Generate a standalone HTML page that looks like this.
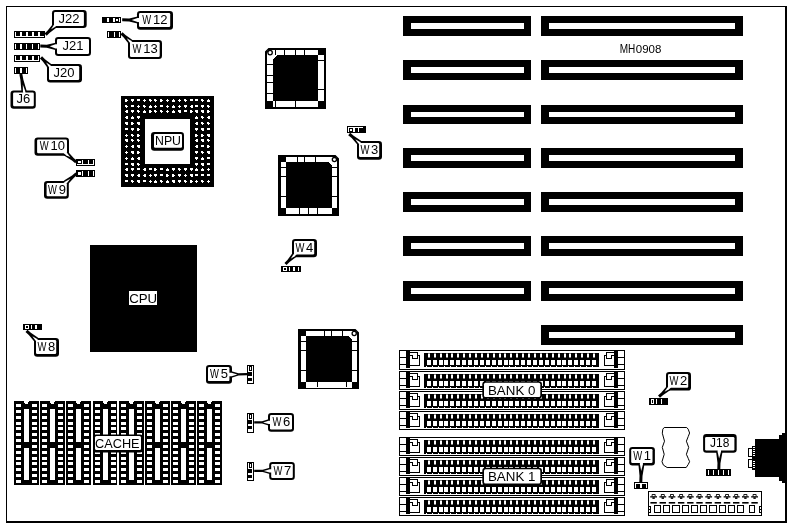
<!DOCTYPE html>
<html><head><meta charset="utf-8"><title>MH0908</title>
<style>
html,body{margin:0;padding:0;background:#fff;}
body{width:791px;height:527px;overflow:hidden;font-family:"Liberation Sans",sans-serif;}
svg{display:block;}
text{font-family:"Liberation Sans",sans-serif;fill:#000;}
svg{filter:grayscale(1);}
</style></head><body>
<svg width="791" height="527" viewBox="0 0 791 527" shape-rendering="crispEdges">
<rect x="0" y="0" width="791" height="527" fill="#fff"/>
<rect x="6" y="6" width="781" height="1" fill="#000" />
<rect x="6" y="6" width="1" height="517" fill="#000" />
<rect x="785" y="6" width="2" height="517" fill="#000" />
<rect x="6" y="521" width="781" height="2" fill="#000" />
<rect x="403" y="16" width="128" height="20" fill="#000" />
<rect x="411" y="23" width="113" height="6" fill="#fff" />
<rect x="541" y="16" width="202" height="20" fill="#000" />
<rect x="549" y="23" width="186" height="6" fill="#fff" />
<rect x="403" y="60" width="128" height="20" fill="#000" />
<rect x="411" y="67" width="113" height="6" fill="#fff" />
<rect x="541" y="60" width="202" height="20" fill="#000" />
<rect x="549" y="67" width="186" height="6" fill="#fff" />
<rect x="403" y="105" width="128" height="19" fill="#000" />
<rect x="411" y="112" width="113" height="5" fill="#fff" />
<rect x="541" y="105" width="202" height="19" fill="#000" />
<rect x="549" y="112" width="186" height="5" fill="#fff" />
<rect x="403" y="148" width="128" height="20" fill="#000" />
<rect x="411" y="155" width="113" height="6" fill="#fff" />
<rect x="541" y="148" width="202" height="20" fill="#000" />
<rect x="549" y="155" width="186" height="6" fill="#fff" />
<rect x="403" y="192" width="128" height="20" fill="#000" />
<rect x="411" y="199" width="113" height="6" fill="#fff" />
<rect x="541" y="192" width="202" height="20" fill="#000" />
<rect x="549" y="199" width="186" height="6" fill="#fff" />
<rect x="403" y="236" width="128" height="20" fill="#000" />
<rect x="411" y="243" width="113" height="6" fill="#fff" />
<rect x="541" y="236" width="202" height="20" fill="#000" />
<rect x="549" y="243" width="186" height="6" fill="#fff" />
<rect x="403" y="281" width="128" height="20" fill="#000" />
<rect x="411" y="288" width="113" height="6" fill="#fff" />
<rect x="541" y="281" width="202" height="20" fill="#000" />
<rect x="549" y="288" width="186" height="6" fill="#fff" />
<rect x="541" y="325" width="202" height="20" fill="#000" />
<rect x="549" y="332" width="186" height="6" fill="#fff" />
<rect x="90" y="245" width="107" height="107" fill="#000" />
<rect x="129" y="291" width="28" height="14" fill="#fff" />
<rect x="121" y="96" width="93" height="91" fill="#000" />
<rect x="145" y="119" width="45" height="45" fill="#fff" />
<path d="M125 99h2v1h1v1h-1v1h-2zM131 99h3v2h-1v1h-1v-1h-1zM137 99h3v2h-3zM144 99h1v1h1v1h-1v1h-1v-1h-1v-1h1zM149 99h2v1h1v1h-1v1h-1v-1h-1zM154 99h2v1h1v1h-1v1h-1v-1h-1zM160 99h2v1h1v1h-1v1h-2zM167 99h1v1h1v1h-1v1h-1v-1h-1v-1h1zM173 99h1v1h1v2h-3v-2h1zM179 99h1v1h1v1h-1v1h-1v-1h-1v-1h1zM184 99h2v1h1v1h-1v1h-1v-1h-1zM190 99h3v2h-3zM195 99h3v2h-3zM201 99h2v1h1v1h-1v1h-1v-1h-1zM208 99h1v1h1v2h-3v-2h1zM125 105h2v1h1v1h-1v1h-1v-1h-1zM131 105h3v2h-3zM138 105h1v1h1v1h-1v1h-1v-1h-1v-1h1zM143 105h2v1h1v1h-1v1h-1v-1h-1zM150 105h1v1h1v2h-3v-2h1zM155 105h1v1h1v1h-1v1h-1v-1h-1v-1h1zM160 105h3v2h-3zM167 105h1v1h1v1h-1v1h-1v-1h-1v-1h1zM173 105h1v1h1v2h-3v-2h1zM179 105h1v1h1v1h-1v1h-1v-1h-1v-1h1zM184 105h3v2h-1v1h-1v-1h-1zM190 106h1v-1h2v3h-2v-1h-1zM195 105h3v2h-3zM201 105h3v2h-1v1h-1v-1h-1zM207 105h2v1h1v1h-1v1h-1v-1h-1zM125 111h1v-1h2v3h-2v-1h-1zM131 110h3v2h-1v1h-1v-1h-1zM137 110h2v1h1v1h-1v1h-1v-1h-1zM144 110h1v1h1v2h-3v-2h1zM149 110h2v1h1v1h-1v1h-2zM154 110h2v1h1v1h-1v1h-1v-1h-1zM160 110h2v1h1v1h-1v1h-1v-1h-1zM167 110h1v1h1v1h-1v1h-1v-1h-1v-1h1zM173 110h1v1h1v2h-3v-2h1zM178 110h3v3h-2v-1h-1zM184 110h3v2h-3zM190 110h2v1h1v1h-1v1h-2zM195 110h3v3h-2v-1h-1zM201 110h3v3h-2v-1h-1zM207 110h2v1h1v1h-1v1h-2zM125 117h1v-1h2v3h-2v-1h-1zM132 116h1v1h1v2h-3v-2h1zM137 116h3v2h-1v1h-1v-1h-1zM196 116h1v1h1v2h-3v-2h1zM201 116h2v1h1v1h-1v1h-1v-1h-1zM207 117h1v-1h2v3h-2v-1h-1zM125 122h3v3h-2v-1h-1zM131 122h2v1h1v1h-1v1h-2zM137 122h3v3h-2v-1h-1zM195 123h1v-1h2v3h-2v-1h-1zM201 122h2v1h1v1h-1v1h-1v-1h-1zM207 122h2v1h1v1h-1v1h-1v-1h-1zM125 128h3v2h-3zM131 128h3v2h-1v1h-1v-1h-1zM137 128h2v1h1v1h-1v1h-2zM195 128h3v2h-1v1h-1v-1h-1zM201 128h3v3h-2v-1h-1zM207 128h3v2h-3zM126 134h1v1h1v1h-1v1h-1v-1h-1v-1h1zM131 134h2v1h1v1h-1v1h-1v-1h-1zM137 134h2v1h1v1h-1v1h-2zM195 134h2v1h1v1h-1v1h-2zM201 134h2v1h1v1h-1v1h-2zM207 134h3v3h-2v-1h-1zM125 139h3v3h-2v-1h-1zM131 139h2v1h1v1h-1v1h-1v-1h-1zM137 139h2v1h1v1h-1v1h-1v-1h-1zM195 140h1v-1h2v3h-2v-1h-1zM201 139h3v3h-2v-1h-1zM207 139h2v1h1v1h-1v1h-1v-1h-1zM126 145h1v1h1v1h-1v1h-1v-1h-1v-1h1zM131 146h1v-1h2v3h-2v-1h-1zM137 145h3v3h-2v-1h-1zM195 146h1v-1h2v3h-2v-1h-1zM201 145h3v2h-3zM207 145h2v1h1v1h-1v1h-2zM126 151h1v1h1v1h-1v1h-1v-1h-1v-1h1zM131 151h3v3h-2v-1h-1zM137 151h2v1h1v1h-1v1h-2zM195 151h3v2h-1v1h-1v-1h-1zM201 151h2v1h1v1h-1v1h-1v-1h-1zM207 151h3v3h-2v-1h-1zM126 157h1v1h1v1h-1v1h-1v-1h-1v-1h1zM132 157h1v1h1v2h-3v-2h1zM137 158h1v-1h2v3h-2v-1h-1zM195 157h3v2h-1v1h-1v-1h-1zM202 157h1v1h1v2h-3v-2h1zM207 157h3v2h-3zM125 163h3v2h-3zM131 163h3v3h-2v-1h-1zM137 163h2v1h1v1h-1v1h-1v-1h-1zM195 163h3v2h-1v1h-1v-1h-1zM201 163h3v3h-2v-1h-1zM207 163h3v2h-3zM125 169h1v-1h2v3h-2v-1h-1zM131 168h3v2h-1v1h-1v-1h-1zM137 168h3v2h-3zM143 169h1v-1h2v3h-2v-1h-1zM149 168h3v2h-3zM154 168h2v1h1v1h-1v1h-2zM160 168h3v2h-3zM167 168h1v1h1v2h-3v-2h1zM172 168h3v2h-1v1h-1v-1h-1zM178 168h2v1h1v1h-1v1h-1v-1h-1zM184 168h3v2h-1v1h-1v-1h-1zM190 168h3v2h-1v1h-1v-1h-1zM196 168h1v1h1v2h-3v-2h1zM202 168h1v1h1v2h-3v-2h1zM208 168h1v1h1v1h-1v1h-1v-1h-1v-1h1zM125 174h3v3h-2v-1h-1zM131 174h3v2h-1v1h-1v-1h-1zM137 175h1v-1h2v3h-2v-1h-1zM143 175h1v-1h2v3h-2v-1h-1zM150 174h1v1h1v1h-1v1h-1v-1h-1v-1h1zM154 174h3v2h-1v1h-1v-1h-1zM160 174h3v2h-3zM166 174h2v1h1v1h-1v1h-2zM172 174h2v1h1v1h-1v1h-2zM178 174h3v2h-1v1h-1v-1h-1zM185 174h1v1h1v1h-1v1h-1v-1h-1v-1h1zM190 174h3v3h-2v-1h-1zM195 174h3v2h-3zM201 174h3v2h-3zM207 174h3v2h-3zM125 180h3v2h-3zM131 180h2v1h1v1h-1v1h-1v-1h-1zM137 180h3v3h-2v-1h-1zM143 180h3v2h-3zM150 180h1v1h1v1h-1v1h-1v-1h-1v-1h1zM155 180h1v1h1v2h-3v-2h1zM160 180h2v1h1v1h-1v1h-1v-1h-1zM167 180h1v1h1v2h-3v-2h1zM172 180h3v3h-2v-1h-1zM178 180h3v2h-1v1h-1v-1h-1zM184 180h2v1h1v1h-1v1h-1v-1h-1zM190 180h2v1h1v1h-1v1h-2zM196 180h1v1h1v1h-1v1h-1v-1h-1v-1h1zM201 180h2v1h1v1h-1v1h-1v-1h-1zM208 180h1v1h1v1h-1v1h-1v-1h-1v-1h1z" fill="#fff"/>
<rect x="265" y="48" width="61" height="61" fill="#000" />
<rect x="267" y="50" width="57" height="57" fill="#fff" />
<rect x="273" y="55" width="45" height="46" fill="#000" />
<rect x="318" y="48" width="8" height="7" fill="#000" />
<rect x="265" y="101" width="8" height="8" fill="#000" />
<rect x="318" y="101" width="8" height="8" fill="#000" />
<rect x="278" y="155" width="61" height="61" fill="#000" />
<rect x="281" y="157" width="56" height="57" fill="#fff" />
<rect x="286" y="162" width="46" height="46" fill="#000" />
<rect x="278" y="155" width="8" height="7" fill="#000" />
<rect x="278" y="208" width="8" height="8" fill="#000" />
<rect x="332" y="208" width="7" height="8" fill="#000" />
<rect x="298" y="329" width="61" height="60" fill="#000" />
<rect x="301" y="331" width="56" height="57" fill="#fff" />
<rect x="306" y="336" width="46" height="46" fill="#000" />
<rect x="298" y="329" width="8" height="7" fill="#000" />
<rect x="298" y="382" width="8" height="7" fill="#000" />
<rect x="352" y="382" width="7" height="7" fill="#000" />
<rect x="275" y="50" width="1" height="5" fill="#000" />
<rect x="284" y="50" width="1" height="5" fill="#000" />
<rect x="295" y="50" width="1" height="5" fill="#000" />
<rect x="304" y="50" width="1" height="5" fill="#000" />
<rect x="267" y="64" width="6" height="1" fill="#000" />
<rect x="267" y="75" width="6" height="1" fill="#000" />
<rect x="267" y="82" width="6" height="1" fill="#000" />
<rect x="267" y="93" width="6" height="1" fill="#000" />
<rect x="318" y="60" width="6" height="1" fill="#000" />
<rect x="318" y="89" width="6" height="1" fill="#000" />
<rect x="275" y="101" width="1" height="6" fill="#000" />
<rect x="295" y="101" width="1" height="6" fill="#000" />
<polygon points="264,47 269.5,47 264,52.5" fill="#fff" shape-rendering="geometricPrecision"/>
<polygon points="265,52.5 269.5,48 272,48 265,55" fill="#000" shape-rendering="geometricPrecision"/>
<polygon points="273,55 277,55 273,59" fill="#fff" />
<circle cx="270.1" cy="52.6" r="2.2" fill="#fff" stroke="#000" stroke-width="1.3" shape-rendering="geometricPrecision"/>
<rect x="297" y="157" width="1" height="5" fill="#000" />
<rect x="304" y="157" width="1" height="5" fill="#000" />
<rect x="315" y="157" width="1" height="5" fill="#000" />
<rect x="281" y="167" width="5" height="1" fill="#000" />
<rect x="281" y="176" width="5" height="1" fill="#000" />
<rect x="281" y="196" width="5" height="1" fill="#000" />
<rect x="332" y="167" width="5" height="1" fill="#000" />
<rect x="332" y="176" width="5" height="1" fill="#000" />
<rect x="332" y="196" width="5" height="1" fill="#000" />
<rect x="299" y="208" width="1" height="6" fill="#000" />
<rect x="308" y="208" width="1" height="6" fill="#000" />
<rect x="317" y="208" width="1" height="6" fill="#000" />
<polygon points="340,154 334.5,154 340,159.5" fill="#fff" shape-rendering="geometricPrecision"/>
<polygon points="339,159.5 334.5,155 332,155 339,162" fill="#000" shape-rendering="geometricPrecision"/>
<polygon points="332,162 328,162 332,166" fill="#fff" />
<circle cx="334.4" cy="159.6" r="2.1" fill="#fff" stroke="#000" stroke-width="1.3" shape-rendering="geometricPrecision"/>
<rect x="324" y="331" width="1" height="5" fill="#000" />
<rect x="331" y="331" width="1" height="5" fill="#000" />
<rect x="342" y="331" width="1" height="5" fill="#000" />
<rect x="301" y="341" width="5" height="1" fill="#000" />
<rect x="301" y="350" width="5" height="1" fill="#000" />
<rect x="301" y="370" width="5" height="1" fill="#000" />
<rect x="352" y="341" width="5" height="1" fill="#000" />
<rect x="352" y="350" width="5" height="1" fill="#000" />
<rect x="352" y="370" width="5" height="1" fill="#000" />
<rect x="317" y="382" width="1" height="5" fill="#000" />
<rect x="346" y="382" width="1" height="5" fill="#000" />
<polygon points="360,328 354.5,328 360,333.5" fill="#fff" shape-rendering="geometricPrecision"/>
<polygon points="359,333.5 354.5,329 352,329 359,336" fill="#000" shape-rendering="geometricPrecision"/>
<polygon points="352,336 348,336 352,340" fill="#fff" />
<circle cx="354.2" cy="333.5" r="2.1" fill="#fff" stroke="#000" stroke-width="1.3" shape-rendering="geometricPrecision"/>
<rect x="14" y="401" width="25" height="84" fill="#000" />
<polygon points="24,401 29,401 28,404 25,404" fill="#fff" />
<rect x="24" y="409" width="5" height="33" fill="#fff" />
<rect x="24" y="448" width="5" height="32" fill="#fff" />
<rect x="16" y="404" width="5" height="3" fill="#fff" />
<rect x="32" y="404" width="5" height="3" fill="#fff" />
<rect x="16" y="410" width="5" height="3" fill="#fff" />
<rect x="32" y="410" width="5" height="3" fill="#fff" />
<rect x="16" y="416" width="5" height="3" fill="#fff" />
<rect x="32" y="416" width="5" height="3" fill="#fff" />
<rect x="16" y="422" width="5" height="3" fill="#fff" />
<rect x="32" y="422" width="5" height="3" fill="#fff" />
<rect x="16" y="427" width="5" height="3" fill="#fff" />
<rect x="32" y="427" width="5" height="3" fill="#fff" />
<rect x="16" y="433" width="5" height="3" fill="#fff" />
<rect x="32" y="433" width="5" height="3" fill="#fff" />
<rect x="16" y="439" width="5" height="3" fill="#fff" />
<rect x="32" y="439" width="5" height="3" fill="#fff" />
<rect x="16" y="445" width="5" height="3" fill="#fff" />
<rect x="32" y="445" width="5" height="3" fill="#fff" />
<rect x="16" y="451" width="5" height="3" fill="#fff" />
<rect x="32" y="451" width="5" height="3" fill="#fff" />
<rect x="16" y="457" width="5" height="3" fill="#fff" />
<rect x="32" y="457" width="5" height="3" fill="#fff" />
<rect x="16" y="462" width="5" height="3" fill="#fff" />
<rect x="32" y="462" width="5" height="3" fill="#fff" />
<rect x="16" y="468" width="5" height="3" fill="#fff" />
<rect x="32" y="468" width="5" height="3" fill="#fff" />
<rect x="16" y="474" width="5" height="3" fill="#fff" />
<rect x="32" y="474" width="5" height="3" fill="#fff" />
<rect x="16" y="480" width="5" height="3" fill="#fff" />
<rect x="32" y="480" width="5" height="3" fill="#fff" />
<rect x="40" y="401" width="25" height="84" fill="#000" />
<polygon points="50,401 55,401 54,404 51,404" fill="#fff" />
<rect x="50" y="409" width="5" height="33" fill="#fff" />
<rect x="50" y="448" width="5" height="32" fill="#fff" />
<rect x="42" y="404" width="5" height="3" fill="#fff" />
<rect x="58" y="404" width="5" height="3" fill="#fff" />
<rect x="42" y="410" width="5" height="3" fill="#fff" />
<rect x="58" y="410" width="5" height="3" fill="#fff" />
<rect x="42" y="416" width="5" height="3" fill="#fff" />
<rect x="58" y="416" width="5" height="3" fill="#fff" />
<rect x="42" y="422" width="5" height="3" fill="#fff" />
<rect x="58" y="422" width="5" height="3" fill="#fff" />
<rect x="42" y="427" width="5" height="3" fill="#fff" />
<rect x="58" y="427" width="5" height="3" fill="#fff" />
<rect x="42" y="433" width="5" height="3" fill="#fff" />
<rect x="58" y="433" width="5" height="3" fill="#fff" />
<rect x="42" y="439" width="5" height="3" fill="#fff" />
<rect x="58" y="439" width="5" height="3" fill="#fff" />
<rect x="42" y="445" width="5" height="3" fill="#fff" />
<rect x="58" y="445" width="5" height="3" fill="#fff" />
<rect x="42" y="451" width="5" height="3" fill="#fff" />
<rect x="58" y="451" width="5" height="3" fill="#fff" />
<rect x="42" y="457" width="5" height="3" fill="#fff" />
<rect x="58" y="457" width="5" height="3" fill="#fff" />
<rect x="42" y="462" width="5" height="3" fill="#fff" />
<rect x="58" y="462" width="5" height="3" fill="#fff" />
<rect x="42" y="468" width="5" height="3" fill="#fff" />
<rect x="58" y="468" width="5" height="3" fill="#fff" />
<rect x="42" y="474" width="5" height="3" fill="#fff" />
<rect x="58" y="474" width="5" height="3" fill="#fff" />
<rect x="42" y="480" width="5" height="3" fill="#fff" />
<rect x="58" y="480" width="5" height="3" fill="#fff" />
<rect x="66" y="401" width="25" height="84" fill="#000" />
<polygon points="76,401 81,401 80,404 77,404" fill="#fff" />
<rect x="76" y="409" width="5" height="33" fill="#fff" />
<rect x="76" y="448" width="5" height="32" fill="#fff" />
<rect x="68" y="404" width="5" height="3" fill="#fff" />
<rect x="84" y="404" width="5" height="3" fill="#fff" />
<rect x="68" y="410" width="5" height="3" fill="#fff" />
<rect x="84" y="410" width="5" height="3" fill="#fff" />
<rect x="68" y="416" width="5" height="3" fill="#fff" />
<rect x="84" y="416" width="5" height="3" fill="#fff" />
<rect x="68" y="422" width="5" height="3" fill="#fff" />
<rect x="84" y="422" width="5" height="3" fill="#fff" />
<rect x="68" y="427" width="5" height="3" fill="#fff" />
<rect x="84" y="427" width="5" height="3" fill="#fff" />
<rect x="68" y="433" width="5" height="3" fill="#fff" />
<rect x="84" y="433" width="5" height="3" fill="#fff" />
<rect x="68" y="439" width="5" height="3" fill="#fff" />
<rect x="84" y="439" width="5" height="3" fill="#fff" />
<rect x="68" y="445" width="5" height="3" fill="#fff" />
<rect x="84" y="445" width="5" height="3" fill="#fff" />
<rect x="68" y="451" width="5" height="3" fill="#fff" />
<rect x="84" y="451" width="5" height="3" fill="#fff" />
<rect x="68" y="457" width="5" height="3" fill="#fff" />
<rect x="84" y="457" width="5" height="3" fill="#fff" />
<rect x="68" y="462" width="5" height="3" fill="#fff" />
<rect x="84" y="462" width="5" height="3" fill="#fff" />
<rect x="68" y="468" width="5" height="3" fill="#fff" />
<rect x="84" y="468" width="5" height="3" fill="#fff" />
<rect x="68" y="474" width="5" height="3" fill="#fff" />
<rect x="84" y="474" width="5" height="3" fill="#fff" />
<rect x="68" y="480" width="5" height="3" fill="#fff" />
<rect x="84" y="480" width="5" height="3" fill="#fff" />
<rect x="93" y="401" width="24" height="84" fill="#000" />
<polygon points="103,401 108,401 107,404 104,404" fill="#fff" />
<rect x="103" y="409" width="5" height="33" fill="#fff" />
<rect x="103" y="448" width="5" height="32" fill="#fff" />
<rect x="95" y="404" width="5" height="3" fill="#fff" />
<rect x="111" y="404" width="5" height="3" fill="#fff" />
<rect x="95" y="410" width="5" height="3" fill="#fff" />
<rect x="111" y="410" width="5" height="3" fill="#fff" />
<rect x="95" y="416" width="5" height="3" fill="#fff" />
<rect x="111" y="416" width="5" height="3" fill="#fff" />
<rect x="95" y="422" width="5" height="3" fill="#fff" />
<rect x="111" y="422" width="5" height="3" fill="#fff" />
<rect x="95" y="427" width="5" height="3" fill="#fff" />
<rect x="111" y="427" width="5" height="3" fill="#fff" />
<rect x="95" y="433" width="5" height="3" fill="#fff" />
<rect x="111" y="433" width="5" height="3" fill="#fff" />
<rect x="95" y="439" width="5" height="3" fill="#fff" />
<rect x="111" y="439" width="5" height="3" fill="#fff" />
<rect x="95" y="445" width="5" height="3" fill="#fff" />
<rect x="111" y="445" width="5" height="3" fill="#fff" />
<rect x="95" y="451" width="5" height="3" fill="#fff" />
<rect x="111" y="451" width="5" height="3" fill="#fff" />
<rect x="95" y="457" width="5" height="3" fill="#fff" />
<rect x="111" y="457" width="5" height="3" fill="#fff" />
<rect x="95" y="462" width="5" height="3" fill="#fff" />
<rect x="111" y="462" width="5" height="3" fill="#fff" />
<rect x="95" y="468" width="5" height="3" fill="#fff" />
<rect x="111" y="468" width="5" height="3" fill="#fff" />
<rect x="95" y="474" width="5" height="3" fill="#fff" />
<rect x="111" y="474" width="5" height="3" fill="#fff" />
<rect x="95" y="480" width="5" height="3" fill="#fff" />
<rect x="111" y="480" width="5" height="3" fill="#fff" />
<rect x="119" y="401" width="25" height="84" fill="#000" />
<polygon points="129,401 134,401 133,404 130,404" fill="#fff" />
<rect x="129" y="409" width="5" height="33" fill="#fff" />
<rect x="129" y="448" width="5" height="32" fill="#fff" />
<rect x="121" y="404" width="5" height="3" fill="#fff" />
<rect x="137" y="404" width="5" height="3" fill="#fff" />
<rect x="121" y="410" width="5" height="3" fill="#fff" />
<rect x="137" y="410" width="5" height="3" fill="#fff" />
<rect x="121" y="416" width="5" height="3" fill="#fff" />
<rect x="137" y="416" width="5" height="3" fill="#fff" />
<rect x="121" y="422" width="5" height="3" fill="#fff" />
<rect x="137" y="422" width="5" height="3" fill="#fff" />
<rect x="121" y="427" width="5" height="3" fill="#fff" />
<rect x="137" y="427" width="5" height="3" fill="#fff" />
<rect x="121" y="433" width="5" height="3" fill="#fff" />
<rect x="137" y="433" width="5" height="3" fill="#fff" />
<rect x="121" y="439" width="5" height="3" fill="#fff" />
<rect x="137" y="439" width="5" height="3" fill="#fff" />
<rect x="121" y="445" width="5" height="3" fill="#fff" />
<rect x="137" y="445" width="5" height="3" fill="#fff" />
<rect x="121" y="451" width="5" height="3" fill="#fff" />
<rect x="137" y="451" width="5" height="3" fill="#fff" />
<rect x="121" y="457" width="5" height="3" fill="#fff" />
<rect x="137" y="457" width="5" height="3" fill="#fff" />
<rect x="121" y="462" width="5" height="3" fill="#fff" />
<rect x="137" y="462" width="5" height="3" fill="#fff" />
<rect x="121" y="468" width="5" height="3" fill="#fff" />
<rect x="137" y="468" width="5" height="3" fill="#fff" />
<rect x="121" y="474" width="5" height="3" fill="#fff" />
<rect x="137" y="474" width="5" height="3" fill="#fff" />
<rect x="121" y="480" width="5" height="3" fill="#fff" />
<rect x="137" y="480" width="5" height="3" fill="#fff" />
<rect x="145" y="401" width="25" height="84" fill="#000" />
<polygon points="155,401 160,401 159,404 156,404" fill="#fff" />
<rect x="155" y="409" width="5" height="33" fill="#fff" />
<rect x="155" y="448" width="5" height="32" fill="#fff" />
<rect x="147" y="404" width="5" height="3" fill="#fff" />
<rect x="163" y="404" width="5" height="3" fill="#fff" />
<rect x="147" y="410" width="5" height="3" fill="#fff" />
<rect x="163" y="410" width="5" height="3" fill="#fff" />
<rect x="147" y="416" width="5" height="3" fill="#fff" />
<rect x="163" y="416" width="5" height="3" fill="#fff" />
<rect x="147" y="422" width="5" height="3" fill="#fff" />
<rect x="163" y="422" width="5" height="3" fill="#fff" />
<rect x="147" y="427" width="5" height="3" fill="#fff" />
<rect x="163" y="427" width="5" height="3" fill="#fff" />
<rect x="147" y="433" width="5" height="3" fill="#fff" />
<rect x="163" y="433" width="5" height="3" fill="#fff" />
<rect x="147" y="439" width="5" height="3" fill="#fff" />
<rect x="163" y="439" width="5" height="3" fill="#fff" />
<rect x="147" y="445" width="5" height="3" fill="#fff" />
<rect x="163" y="445" width="5" height="3" fill="#fff" />
<rect x="147" y="451" width="5" height="3" fill="#fff" />
<rect x="163" y="451" width="5" height="3" fill="#fff" />
<rect x="147" y="457" width="5" height="3" fill="#fff" />
<rect x="163" y="457" width="5" height="3" fill="#fff" />
<rect x="147" y="462" width="5" height="3" fill="#fff" />
<rect x="163" y="462" width="5" height="3" fill="#fff" />
<rect x="147" y="468" width="5" height="3" fill="#fff" />
<rect x="163" y="468" width="5" height="3" fill="#fff" />
<rect x="147" y="474" width="5" height="3" fill="#fff" />
<rect x="163" y="474" width="5" height="3" fill="#fff" />
<rect x="147" y="480" width="5" height="3" fill="#fff" />
<rect x="163" y="480" width="5" height="3" fill="#fff" />
<rect x="171" y="401" width="25" height="84" fill="#000" />
<polygon points="181,401 186,401 185,404 182,404" fill="#fff" />
<rect x="181" y="409" width="5" height="33" fill="#fff" />
<rect x="181" y="448" width="5" height="32" fill="#fff" />
<rect x="173" y="404" width="5" height="3" fill="#fff" />
<rect x="189" y="404" width="5" height="3" fill="#fff" />
<rect x="173" y="410" width="5" height="3" fill="#fff" />
<rect x="189" y="410" width="5" height="3" fill="#fff" />
<rect x="173" y="416" width="5" height="3" fill="#fff" />
<rect x="189" y="416" width="5" height="3" fill="#fff" />
<rect x="173" y="422" width="5" height="3" fill="#fff" />
<rect x="189" y="422" width="5" height="3" fill="#fff" />
<rect x="173" y="427" width="5" height="3" fill="#fff" />
<rect x="189" y="427" width="5" height="3" fill="#fff" />
<rect x="173" y="433" width="5" height="3" fill="#fff" />
<rect x="189" y="433" width="5" height="3" fill="#fff" />
<rect x="173" y="439" width="5" height="3" fill="#fff" />
<rect x="189" y="439" width="5" height="3" fill="#fff" />
<rect x="173" y="445" width="5" height="3" fill="#fff" />
<rect x="189" y="445" width="5" height="3" fill="#fff" />
<rect x="173" y="451" width="5" height="3" fill="#fff" />
<rect x="189" y="451" width="5" height="3" fill="#fff" />
<rect x="173" y="457" width="5" height="3" fill="#fff" />
<rect x="189" y="457" width="5" height="3" fill="#fff" />
<rect x="173" y="462" width="5" height="3" fill="#fff" />
<rect x="189" y="462" width="5" height="3" fill="#fff" />
<rect x="173" y="468" width="5" height="3" fill="#fff" />
<rect x="189" y="468" width="5" height="3" fill="#fff" />
<rect x="173" y="474" width="5" height="3" fill="#fff" />
<rect x="189" y="474" width="5" height="3" fill="#fff" />
<rect x="173" y="480" width="5" height="3" fill="#fff" />
<rect x="189" y="480" width="5" height="3" fill="#fff" />
<rect x="197" y="401" width="25" height="84" fill="#000" />
<polygon points="207,401 212,401 211,404 208,404" fill="#fff" />
<rect x="207" y="409" width="5" height="33" fill="#fff" />
<rect x="207" y="448" width="5" height="32" fill="#fff" />
<rect x="199" y="404" width="5" height="3" fill="#fff" />
<rect x="215" y="404" width="5" height="3" fill="#fff" />
<rect x="199" y="410" width="5" height="3" fill="#fff" />
<rect x="215" y="410" width="5" height="3" fill="#fff" />
<rect x="199" y="416" width="5" height="3" fill="#fff" />
<rect x="215" y="416" width="5" height="3" fill="#fff" />
<rect x="199" y="422" width="5" height="3" fill="#fff" />
<rect x="215" y="422" width="5" height="3" fill="#fff" />
<rect x="199" y="427" width="5" height="3" fill="#fff" />
<rect x="215" y="427" width="5" height="3" fill="#fff" />
<rect x="199" y="433" width="5" height="3" fill="#fff" />
<rect x="215" y="433" width="5" height="3" fill="#fff" />
<rect x="199" y="439" width="5" height="3" fill="#fff" />
<rect x="215" y="439" width="5" height="3" fill="#fff" />
<rect x="199" y="445" width="5" height="3" fill="#fff" />
<rect x="215" y="445" width="5" height="3" fill="#fff" />
<rect x="199" y="451" width="5" height="3" fill="#fff" />
<rect x="215" y="451" width="5" height="3" fill="#fff" />
<rect x="199" y="457" width="5" height="3" fill="#fff" />
<rect x="215" y="457" width="5" height="3" fill="#fff" />
<rect x="199" y="462" width="5" height="3" fill="#fff" />
<rect x="215" y="462" width="5" height="3" fill="#fff" />
<rect x="199" y="468" width="5" height="3" fill="#fff" />
<rect x="215" y="468" width="5" height="3" fill="#fff" />
<rect x="199" y="474" width="5" height="3" fill="#fff" />
<rect x="215" y="474" width="5" height="3" fill="#fff" />
<rect x="199" y="480" width="5" height="3" fill="#fff" />
<rect x="215" y="480" width="5" height="3" fill="#fff" />
<rect x="399" y="350" width="226" height="20" fill="#000" />
<rect x="400" y="351" width="224" height="18" fill="#fff" />
<rect x="400" y="357" width="6" height="1" fill="#000" />
<rect x="400" y="364" width="6" height="1" fill="#000" />
<rect x="406" y="350" width="4" height="18" fill="#000" />
<rect x="410" y="352" width="8" height="1" fill="#000" />
<rect x="417" y="352" width="1" height="4" fill="#000" />
<rect x="417" y="355" width="3" height="1" fill="#000" />
<rect x="419" y="355" width="1" height="11" fill="#000" />
<rect x="410" y="365" width="10" height="1" fill="#000" />
<rect x="410" y="355" width="3" height="1" fill="#000" />
<rect x="412" y="355" width="1" height="4" fill="#000" />
<rect x="412" y="358" width="6" height="1" fill="#000" />
<rect x="417" y="356" width="1" height="3" fill="#000" />
<rect x="618" y="357" width="6" height="1" fill="#000" />
<rect x="618" y="364" width="6" height="1" fill="#000" />
<rect x="614" y="350" width="4" height="18" fill="#000" />
<rect x="606" y="352" width="8" height="1" fill="#000" />
<rect x="606" y="352" width="1" height="4" fill="#000" />
<rect x="604" y="355" width="3" height="1" fill="#000" />
<rect x="604" y="355" width="1" height="11" fill="#000" />
<rect x="604" y="365" width="10" height="1" fill="#000" />
<rect x="611" y="355" width="3" height="1" fill="#000" />
<rect x="611" y="355" width="1" height="4" fill="#000" />
<rect x="606" y="358" width="6" height="1" fill="#000" />
<rect x="606" y="356" width="1" height="3" fill="#000" />
<rect x="424" y="353" width="175" height="13" fill="#000" />
<path d="M428 353.6h2v3.9h-2zM427 360h4v5h-4zM431 366h1v1h-1zM434 353.6h2v3.9h-2zM433 360h4v5h-4zM437 366h1v1h-1zM440 353.6h2v3.9h-2zM439 360h4v5h-4zM443 366h1v1h-1zM446 353.6h2v3.9h-2zM444 360h4v5h-4zM448 366h1v1h-1zM451 353.6h2v3.9h-2zM450 360h4v5h-4zM454 366h1v1h-1zM457 353.6h2v3.9h-2zM456 360h4v5h-4zM460 366h1v1h-1zM463 353.6h2v3.9h-2zM462 360h4v5h-4zM466 366h1v1h-1zM469 353.6h2v3.9h-2zM468 360h4v5h-4zM472 366h1v1h-1zM475 353.6h2v3.9h-2zM474 360h4v5h-4zM478 366h1v1h-1zM481 353.6h2v3.9h-2zM480 360h4v5h-4zM484 366h1v1h-1zM487 353.6h2v3.9h-2zM486 360h4v5h-4zM490 366h1v1h-1zM493 353.6h2v3.9h-2zM492 360h4v5h-4zM496 366h1v1h-1zM499 353.6h2v3.9h-2zM498 360h4v5h-4zM502 366h1v1h-1zM504 353.6h2v3.9h-2zM504 360h4v5h-4zM508 366h1v1h-1zM510 353.6h2v3.9h-2zM509 360h4v5h-4zM513 366h1v1h-1zM516 353.6h2v3.9h-2zM515 360h4v5h-4zM519 366h1v1h-1zM522 353.6h2v3.9h-2zM521 360h4v5h-4zM525 366h1v1h-1zM528 353.6h2v3.9h-2zM527 360h4v5h-4zM531 366h1v1h-1zM534 353.6h2v3.9h-2zM533 360h4v5h-4zM537 366h1v1h-1zM540 353.6h2v3.9h-2zM539 360h4v5h-4zM543 366h1v1h-1zM546 353.6h2v3.9h-2zM545 360h4v5h-4zM549 366h1v1h-1zM552 353.6h2v3.9h-2zM551 360h4v5h-4zM555 366h1v1h-1zM558 353.6h2v3.9h-2zM557 360h4v5h-4zM561 366h1v1h-1zM564 353.6h2v3.9h-2zM562 360h4v5h-4zM566 366h1v1h-1zM569 353.6h2v3.9h-2zM568 360h4v5h-4zM572 366h1v1h-1zM575 353.6h2v3.9h-2zM574 360h4v5h-4zM578 366h1v1h-1zM581 353.6h2v3.9h-2zM580 360h4v5h-4zM584 366h1v1h-1zM587 353.6h2v3.9h-2zM586 360h4v5h-4zM590 366h1v1h-1zM593 353.6h2v3.9h-2zM592 360h4v5h-4zM596 366h1v1h-1z" fill="#fff" shape-rendering="geometricPrecision"/>
<rect x="424" y="366" width="175" height="1" fill="#000" />
<path d="M426 366h1v1h-1zM432 366h1v1h-1zM438 366h1v1h-1zM444 366h1v1h-1zM450 366h1v1h-1zM456 366h1v1h-1zM462 366h1v1h-1zM468 366h1v1h-1zM474 366h1v1h-1zM479 366h1v1h-1zM485 366h1v1h-1zM491 366h1v1h-1zM497 366h1v1h-1zM503 366h1v1h-1zM509 366h1v1h-1zM515 366h1v1h-1zM521 366h1v1h-1zM527 366h1v1h-1zM532 366h1v1h-1zM538 366h1v1h-1zM544 366h1v1h-1zM550 366h1v1h-1zM556 366h1v1h-1zM562 366h1v1h-1zM568 366h1v1h-1zM574 366h1v1h-1zM580 366h1v1h-1zM586 366h1v1h-1zM592 366h1v1h-1z" fill="#fff"/>
<rect x="399" y="371" width="226" height="19" fill="#000" />
<rect x="400" y="372" width="224" height="17" fill="#fff" />
<rect x="400" y="378" width="6" height="1" fill="#000" />
<rect x="400" y="385" width="6" height="1" fill="#000" />
<rect x="406" y="371" width="4" height="17" fill="#000" />
<rect x="410" y="373" width="8" height="1" fill="#000" />
<rect x="417" y="373" width="1" height="4" fill="#000" />
<rect x="417" y="376" width="3" height="1" fill="#000" />
<rect x="419" y="376" width="1" height="11" fill="#000" />
<rect x="410" y="386" width="10" height="1" fill="#000" />
<rect x="410" y="376" width="3" height="1" fill="#000" />
<rect x="412" y="376" width="1" height="4" fill="#000" />
<rect x="412" y="379" width="6" height="1" fill="#000" />
<rect x="417" y="377" width="1" height="3" fill="#000" />
<rect x="618" y="378" width="6" height="1" fill="#000" />
<rect x="618" y="385" width="6" height="1" fill="#000" />
<rect x="614" y="371" width="4" height="17" fill="#000" />
<rect x="606" y="373" width="8" height="1" fill="#000" />
<rect x="606" y="373" width="1" height="4" fill="#000" />
<rect x="604" y="376" width="3" height="1" fill="#000" />
<rect x="604" y="376" width="1" height="11" fill="#000" />
<rect x="604" y="386" width="10" height="1" fill="#000" />
<rect x="611" y="376" width="3" height="1" fill="#000" />
<rect x="611" y="376" width="1" height="4" fill="#000" />
<rect x="606" y="379" width="6" height="1" fill="#000" />
<rect x="606" y="377" width="1" height="3" fill="#000" />
<rect x="424" y="374" width="175" height="13" fill="#000" />
<path d="M428 374.6h2v3.9h-2zM427 381h4v5h-4zM431 387h1v1h-1zM434 374.6h2v3.9h-2zM433 381h4v5h-4zM437 387h1v1h-1zM440 374.6h2v3.9h-2zM439 381h4v5h-4zM443 387h1v1h-1zM446 374.6h2v3.9h-2zM444 381h4v5h-4zM448 387h1v1h-1zM451 374.6h2v3.9h-2zM450 381h4v5h-4zM454 387h1v1h-1zM457 374.6h2v3.9h-2zM456 381h4v5h-4zM460 387h1v1h-1zM463 374.6h2v3.9h-2zM462 381h4v5h-4zM466 387h1v1h-1zM469 374.6h2v3.9h-2zM468 381h4v5h-4zM472 387h1v1h-1zM475 374.6h2v3.9h-2zM474 381h4v5h-4zM478 387h1v1h-1zM481 374.6h2v3.9h-2zM480 381h4v5h-4zM484 387h1v1h-1zM487 374.6h2v3.9h-2zM486 381h4v5h-4zM490 387h1v1h-1zM493 374.6h2v3.9h-2zM492 381h4v5h-4zM496 387h1v1h-1zM499 374.6h2v3.9h-2zM498 381h4v5h-4zM502 387h1v1h-1zM504 374.6h2v3.9h-2zM504 381h4v5h-4zM508 387h1v1h-1zM510 374.6h2v3.9h-2zM509 381h4v5h-4zM513 387h1v1h-1zM516 374.6h2v3.9h-2zM515 381h4v5h-4zM519 387h1v1h-1zM522 374.6h2v3.9h-2zM521 381h4v5h-4zM525 387h1v1h-1zM528 374.6h2v3.9h-2zM527 381h4v5h-4zM531 387h1v1h-1zM534 374.6h2v3.9h-2zM533 381h4v5h-4zM537 387h1v1h-1zM540 374.6h2v3.9h-2zM539 381h4v5h-4zM543 387h1v1h-1zM546 374.6h2v3.9h-2zM545 381h4v5h-4zM549 387h1v1h-1zM552 374.6h2v3.9h-2zM551 381h4v5h-4zM555 387h1v1h-1zM558 374.6h2v3.9h-2zM557 381h4v5h-4zM561 387h1v1h-1zM564 374.6h2v3.9h-2zM562 381h4v5h-4zM566 387h1v1h-1zM569 374.6h2v3.9h-2zM568 381h4v5h-4zM572 387h1v1h-1zM575 374.6h2v3.9h-2zM574 381h4v5h-4zM578 387h1v1h-1zM581 374.6h2v3.9h-2zM580 381h4v5h-4zM584 387h1v1h-1zM587 374.6h2v3.9h-2zM586 381h4v5h-4zM590 387h1v1h-1zM593 374.6h2v3.9h-2zM592 381h4v5h-4zM596 387h1v1h-1z" fill="#fff" shape-rendering="geometricPrecision"/>
<rect x="424" y="387" width="175" height="1" fill="#000" />
<path d="M426 387h1v1h-1zM432 387h1v1h-1zM438 387h1v1h-1zM444 387h1v1h-1zM450 387h1v1h-1zM456 387h1v1h-1zM462 387h1v1h-1zM468 387h1v1h-1zM474 387h1v1h-1zM479 387h1v1h-1zM485 387h1v1h-1zM491 387h1v1h-1zM497 387h1v1h-1zM503 387h1v1h-1zM509 387h1v1h-1zM515 387h1v1h-1zM521 387h1v1h-1zM527 387h1v1h-1zM532 387h1v1h-1zM538 387h1v1h-1zM544 387h1v1h-1zM550 387h1v1h-1zM556 387h1v1h-1zM562 387h1v1h-1zM568 387h1v1h-1zM574 387h1v1h-1zM580 387h1v1h-1zM586 387h1v1h-1zM592 387h1v1h-1z" fill="#fff"/>
<rect x="399" y="391" width="226" height="19" fill="#000" />
<rect x="400" y="392" width="224" height="17" fill="#fff" />
<rect x="400" y="398" width="6" height="1" fill="#000" />
<rect x="400" y="405" width="6" height="1" fill="#000" />
<rect x="406" y="391" width="4" height="17" fill="#000" />
<rect x="410" y="393" width="8" height="1" fill="#000" />
<rect x="417" y="393" width="1" height="4" fill="#000" />
<rect x="417" y="396" width="3" height="1" fill="#000" />
<rect x="419" y="396" width="1" height="11" fill="#000" />
<rect x="410" y="406" width="10" height="1" fill="#000" />
<rect x="410" y="396" width="3" height="1" fill="#000" />
<rect x="412" y="396" width="1" height="4" fill="#000" />
<rect x="412" y="399" width="6" height="1" fill="#000" />
<rect x="417" y="397" width="1" height="3" fill="#000" />
<rect x="618" y="398" width="6" height="1" fill="#000" />
<rect x="618" y="405" width="6" height="1" fill="#000" />
<rect x="614" y="391" width="4" height="17" fill="#000" />
<rect x="606" y="393" width="8" height="1" fill="#000" />
<rect x="606" y="393" width="1" height="4" fill="#000" />
<rect x="604" y="396" width="3" height="1" fill="#000" />
<rect x="604" y="396" width="1" height="11" fill="#000" />
<rect x="604" y="406" width="10" height="1" fill="#000" />
<rect x="611" y="396" width="3" height="1" fill="#000" />
<rect x="611" y="396" width="1" height="4" fill="#000" />
<rect x="606" y="399" width="6" height="1" fill="#000" />
<rect x="606" y="397" width="1" height="3" fill="#000" />
<rect x="424" y="394" width="175" height="13" fill="#000" />
<path d="M428 394.6h2v3.9h-2zM427 401h4v5h-4zM431 407h1v1h-1zM434 394.6h2v3.9h-2zM433 401h4v5h-4zM437 407h1v1h-1zM440 394.6h2v3.9h-2zM439 401h4v5h-4zM443 407h1v1h-1zM446 394.6h2v3.9h-2zM444 401h4v5h-4zM448 407h1v1h-1zM451 394.6h2v3.9h-2zM450 401h4v5h-4zM454 407h1v1h-1zM457 394.6h2v3.9h-2zM456 401h4v5h-4zM460 407h1v1h-1zM463 394.6h2v3.9h-2zM462 401h4v5h-4zM466 407h1v1h-1zM469 394.6h2v3.9h-2zM468 401h4v5h-4zM472 407h1v1h-1zM475 394.6h2v3.9h-2zM474 401h4v5h-4zM478 407h1v1h-1zM481 394.6h2v3.9h-2zM480 401h4v5h-4zM484 407h1v1h-1zM487 394.6h2v3.9h-2zM486 401h4v5h-4zM490 407h1v1h-1zM493 394.6h2v3.9h-2zM492 401h4v5h-4zM496 407h1v1h-1zM499 394.6h2v3.9h-2zM498 401h4v5h-4zM502 407h1v1h-1zM504 394.6h2v3.9h-2zM504 401h4v5h-4zM508 407h1v1h-1zM510 394.6h2v3.9h-2zM509 401h4v5h-4zM513 407h1v1h-1zM516 394.6h2v3.9h-2zM515 401h4v5h-4zM519 407h1v1h-1zM522 394.6h2v3.9h-2zM521 401h4v5h-4zM525 407h1v1h-1zM528 394.6h2v3.9h-2zM527 401h4v5h-4zM531 407h1v1h-1zM534 394.6h2v3.9h-2zM533 401h4v5h-4zM537 407h1v1h-1zM540 394.6h2v3.9h-2zM539 401h4v5h-4zM543 407h1v1h-1zM546 394.6h2v3.9h-2zM545 401h4v5h-4zM549 407h1v1h-1zM552 394.6h2v3.9h-2zM551 401h4v5h-4zM555 407h1v1h-1zM558 394.6h2v3.9h-2zM557 401h4v5h-4zM561 407h1v1h-1zM564 394.6h2v3.9h-2zM562 401h4v5h-4zM566 407h1v1h-1zM569 394.6h2v3.9h-2zM568 401h4v5h-4zM572 407h1v1h-1zM575 394.6h2v3.9h-2zM574 401h4v5h-4zM578 407h1v1h-1zM581 394.6h2v3.9h-2zM580 401h4v5h-4zM584 407h1v1h-1zM587 394.6h2v3.9h-2zM586 401h4v5h-4zM590 407h1v1h-1zM593 394.6h2v3.9h-2zM592 401h4v5h-4zM596 407h1v1h-1z" fill="#fff" shape-rendering="geometricPrecision"/>
<rect x="424" y="407" width="175" height="1" fill="#000" />
<path d="M426 407h1v1h-1zM432 407h1v1h-1zM438 407h1v1h-1zM444 407h1v1h-1zM450 407h1v1h-1zM456 407h1v1h-1zM462 407h1v1h-1zM468 407h1v1h-1zM474 407h1v1h-1zM479 407h1v1h-1zM485 407h1v1h-1zM491 407h1v1h-1zM497 407h1v1h-1zM503 407h1v1h-1zM509 407h1v1h-1zM515 407h1v1h-1zM521 407h1v1h-1zM527 407h1v1h-1zM532 407h1v1h-1zM538 407h1v1h-1zM544 407h1v1h-1zM550 407h1v1h-1zM556 407h1v1h-1zM562 407h1v1h-1zM568 407h1v1h-1zM574 407h1v1h-1zM580 407h1v1h-1zM586 407h1v1h-1zM592 407h1v1h-1z" fill="#fff"/>
<rect x="399" y="411" width="226" height="19" fill="#000" />
<rect x="400" y="412" width="224" height="17" fill="#fff" />
<rect x="400" y="418" width="6" height="1" fill="#000" />
<rect x="400" y="425" width="6" height="1" fill="#000" />
<rect x="406" y="411" width="4" height="17" fill="#000" />
<rect x="410" y="413" width="8" height="1" fill="#000" />
<rect x="417" y="413" width="1" height="4" fill="#000" />
<rect x="417" y="416" width="3" height="1" fill="#000" />
<rect x="419" y="416" width="1" height="11" fill="#000" />
<rect x="410" y="426" width="10" height="1" fill="#000" />
<rect x="410" y="416" width="3" height="1" fill="#000" />
<rect x="412" y="416" width="1" height="4" fill="#000" />
<rect x="412" y="419" width="6" height="1" fill="#000" />
<rect x="417" y="417" width="1" height="3" fill="#000" />
<rect x="618" y="418" width="6" height="1" fill="#000" />
<rect x="618" y="425" width="6" height="1" fill="#000" />
<rect x="614" y="411" width="4" height="17" fill="#000" />
<rect x="606" y="413" width="8" height="1" fill="#000" />
<rect x="606" y="413" width="1" height="4" fill="#000" />
<rect x="604" y="416" width="3" height="1" fill="#000" />
<rect x="604" y="416" width="1" height="11" fill="#000" />
<rect x="604" y="426" width="10" height="1" fill="#000" />
<rect x="611" y="416" width="3" height="1" fill="#000" />
<rect x="611" y="416" width="1" height="4" fill="#000" />
<rect x="606" y="419" width="6" height="1" fill="#000" />
<rect x="606" y="417" width="1" height="3" fill="#000" />
<rect x="424" y="414" width="175" height="13" fill="#000" />
<path d="M428 414.6h2v3.9h-2zM427 421h4v5h-4zM431 427h1v1h-1zM434 414.6h2v3.9h-2zM433 421h4v5h-4zM437 427h1v1h-1zM440 414.6h2v3.9h-2zM439 421h4v5h-4zM443 427h1v1h-1zM446 414.6h2v3.9h-2zM444 421h4v5h-4zM448 427h1v1h-1zM451 414.6h2v3.9h-2zM450 421h4v5h-4zM454 427h1v1h-1zM457 414.6h2v3.9h-2zM456 421h4v5h-4zM460 427h1v1h-1zM463 414.6h2v3.9h-2zM462 421h4v5h-4zM466 427h1v1h-1zM469 414.6h2v3.9h-2zM468 421h4v5h-4zM472 427h1v1h-1zM475 414.6h2v3.9h-2zM474 421h4v5h-4zM478 427h1v1h-1zM481 414.6h2v3.9h-2zM480 421h4v5h-4zM484 427h1v1h-1zM487 414.6h2v3.9h-2zM486 421h4v5h-4zM490 427h1v1h-1zM493 414.6h2v3.9h-2zM492 421h4v5h-4zM496 427h1v1h-1zM499 414.6h2v3.9h-2zM498 421h4v5h-4zM502 427h1v1h-1zM504 414.6h2v3.9h-2zM504 421h4v5h-4zM508 427h1v1h-1zM510 414.6h2v3.9h-2zM509 421h4v5h-4zM513 427h1v1h-1zM516 414.6h2v3.9h-2zM515 421h4v5h-4zM519 427h1v1h-1zM522 414.6h2v3.9h-2zM521 421h4v5h-4zM525 427h1v1h-1zM528 414.6h2v3.9h-2zM527 421h4v5h-4zM531 427h1v1h-1zM534 414.6h2v3.9h-2zM533 421h4v5h-4zM537 427h1v1h-1zM540 414.6h2v3.9h-2zM539 421h4v5h-4zM543 427h1v1h-1zM546 414.6h2v3.9h-2zM545 421h4v5h-4zM549 427h1v1h-1zM552 414.6h2v3.9h-2zM551 421h4v5h-4zM555 427h1v1h-1zM558 414.6h2v3.9h-2zM557 421h4v5h-4zM561 427h1v1h-1zM564 414.6h2v3.9h-2zM562 421h4v5h-4zM566 427h1v1h-1zM569 414.6h2v3.9h-2zM568 421h4v5h-4zM572 427h1v1h-1zM575 414.6h2v3.9h-2zM574 421h4v5h-4zM578 427h1v1h-1zM581 414.6h2v3.9h-2zM580 421h4v5h-4zM584 427h1v1h-1zM587 414.6h2v3.9h-2zM586 421h4v5h-4zM590 427h1v1h-1zM593 414.6h2v3.9h-2zM592 421h4v5h-4zM596 427h1v1h-1z" fill="#fff" shape-rendering="geometricPrecision"/>
<rect x="424" y="427" width="175" height="1" fill="#000" />
<path d="M426 427h1v1h-1zM432 427h1v1h-1zM438 427h1v1h-1zM444 427h1v1h-1zM450 427h1v1h-1zM456 427h1v1h-1zM462 427h1v1h-1zM468 427h1v1h-1zM474 427h1v1h-1zM479 427h1v1h-1zM485 427h1v1h-1zM491 427h1v1h-1zM497 427h1v1h-1zM503 427h1v1h-1zM509 427h1v1h-1zM515 427h1v1h-1zM521 427h1v1h-1zM527 427h1v1h-1zM532 427h1v1h-1zM538 427h1v1h-1zM544 427h1v1h-1zM550 427h1v1h-1zM556 427h1v1h-1zM562 427h1v1h-1zM568 427h1v1h-1zM574 427h1v1h-1zM580 427h1v1h-1zM586 427h1v1h-1zM592 427h1v1h-1z" fill="#fff"/>
<rect x="399" y="437" width="226" height="19" fill="#000" />
<rect x="400" y="438" width="224" height="17" fill="#fff" />
<rect x="400" y="444" width="6" height="1" fill="#000" />
<rect x="400" y="451" width="6" height="1" fill="#000" />
<rect x="406" y="437" width="4" height="17" fill="#000" />
<rect x="410" y="439" width="8" height="1" fill="#000" />
<rect x="417" y="439" width="1" height="4" fill="#000" />
<rect x="417" y="442" width="3" height="1" fill="#000" />
<rect x="419" y="442" width="1" height="11" fill="#000" />
<rect x="410" y="452" width="10" height="1" fill="#000" />
<rect x="410" y="442" width="3" height="1" fill="#000" />
<rect x="412" y="442" width="1" height="4" fill="#000" />
<rect x="412" y="445" width="6" height="1" fill="#000" />
<rect x="417" y="443" width="1" height="3" fill="#000" />
<rect x="618" y="444" width="6" height="1" fill="#000" />
<rect x="618" y="451" width="6" height="1" fill="#000" />
<rect x="614" y="437" width="4" height="17" fill="#000" />
<rect x="606" y="439" width="8" height="1" fill="#000" />
<rect x="606" y="439" width="1" height="4" fill="#000" />
<rect x="604" y="442" width="3" height="1" fill="#000" />
<rect x="604" y="442" width="1" height="11" fill="#000" />
<rect x="604" y="452" width="10" height="1" fill="#000" />
<rect x="611" y="442" width="3" height="1" fill="#000" />
<rect x="611" y="442" width="1" height="4" fill="#000" />
<rect x="606" y="445" width="6" height="1" fill="#000" />
<rect x="606" y="443" width="1" height="3" fill="#000" />
<rect x="424" y="440" width="175" height="13" fill="#000" />
<path d="M428 440.6h2v3.9h-2zM427 447h4v5h-4zM431 453h1v1h-1zM434 440.6h2v3.9h-2zM433 447h4v5h-4zM437 453h1v1h-1zM440 440.6h2v3.9h-2zM439 447h4v5h-4zM443 453h1v1h-1zM446 440.6h2v3.9h-2zM444 447h4v5h-4zM448 453h1v1h-1zM451 440.6h2v3.9h-2zM450 447h4v5h-4zM454 453h1v1h-1zM457 440.6h2v3.9h-2zM456 447h4v5h-4zM460 453h1v1h-1zM463 440.6h2v3.9h-2zM462 447h4v5h-4zM466 453h1v1h-1zM469 440.6h2v3.9h-2zM468 447h4v5h-4zM472 453h1v1h-1zM475 440.6h2v3.9h-2zM474 447h4v5h-4zM478 453h1v1h-1zM481 440.6h2v3.9h-2zM480 447h4v5h-4zM484 453h1v1h-1zM487 440.6h2v3.9h-2zM486 447h4v5h-4zM490 453h1v1h-1zM493 440.6h2v3.9h-2zM492 447h4v5h-4zM496 453h1v1h-1zM499 440.6h2v3.9h-2zM498 447h4v5h-4zM502 453h1v1h-1zM504 440.6h2v3.9h-2zM504 447h4v5h-4zM508 453h1v1h-1zM510 440.6h2v3.9h-2zM509 447h4v5h-4zM513 453h1v1h-1zM516 440.6h2v3.9h-2zM515 447h4v5h-4zM519 453h1v1h-1zM522 440.6h2v3.9h-2zM521 447h4v5h-4zM525 453h1v1h-1zM528 440.6h2v3.9h-2zM527 447h4v5h-4zM531 453h1v1h-1zM534 440.6h2v3.9h-2zM533 447h4v5h-4zM537 453h1v1h-1zM540 440.6h2v3.9h-2zM539 447h4v5h-4zM543 453h1v1h-1zM546 440.6h2v3.9h-2zM545 447h4v5h-4zM549 453h1v1h-1zM552 440.6h2v3.9h-2zM551 447h4v5h-4zM555 453h1v1h-1zM558 440.6h2v3.9h-2zM557 447h4v5h-4zM561 453h1v1h-1zM564 440.6h2v3.9h-2zM562 447h4v5h-4zM566 453h1v1h-1zM569 440.6h2v3.9h-2zM568 447h4v5h-4zM572 453h1v1h-1zM575 440.6h2v3.9h-2zM574 447h4v5h-4zM578 453h1v1h-1zM581 440.6h2v3.9h-2zM580 447h4v5h-4zM584 453h1v1h-1zM587 440.6h2v3.9h-2zM586 447h4v5h-4zM590 453h1v1h-1zM593 440.6h2v3.9h-2zM592 447h4v5h-4zM596 453h1v1h-1z" fill="#fff" shape-rendering="geometricPrecision"/>
<rect x="424" y="453" width="175" height="1" fill="#000" />
<path d="M426 453h1v1h-1zM432 453h1v1h-1zM438 453h1v1h-1zM444 453h1v1h-1zM450 453h1v1h-1zM456 453h1v1h-1zM462 453h1v1h-1zM468 453h1v1h-1zM474 453h1v1h-1zM479 453h1v1h-1zM485 453h1v1h-1zM491 453h1v1h-1zM497 453h1v1h-1zM503 453h1v1h-1zM509 453h1v1h-1zM515 453h1v1h-1zM521 453h1v1h-1zM527 453h1v1h-1zM532 453h1v1h-1zM538 453h1v1h-1zM544 453h1v1h-1zM550 453h1v1h-1zM556 453h1v1h-1zM562 453h1v1h-1zM568 453h1v1h-1zM574 453h1v1h-1zM580 453h1v1h-1zM586 453h1v1h-1zM592 453h1v1h-1z" fill="#fff"/>
<rect x="399" y="457" width="226" height="19" fill="#000" />
<rect x="400" y="458" width="224" height="17" fill="#fff" />
<rect x="400" y="464" width="6" height="1" fill="#000" />
<rect x="400" y="471" width="6" height="1" fill="#000" />
<rect x="406" y="457" width="4" height="17" fill="#000" />
<rect x="410" y="459" width="8" height="1" fill="#000" />
<rect x="417" y="459" width="1" height="4" fill="#000" />
<rect x="417" y="462" width="3" height="1" fill="#000" />
<rect x="419" y="462" width="1" height="11" fill="#000" />
<rect x="410" y="472" width="10" height="1" fill="#000" />
<rect x="410" y="462" width="3" height="1" fill="#000" />
<rect x="412" y="462" width="1" height="4" fill="#000" />
<rect x="412" y="465" width="6" height="1" fill="#000" />
<rect x="417" y="463" width="1" height="3" fill="#000" />
<rect x="618" y="464" width="6" height="1" fill="#000" />
<rect x="618" y="471" width="6" height="1" fill="#000" />
<rect x="614" y="457" width="4" height="17" fill="#000" />
<rect x="606" y="459" width="8" height="1" fill="#000" />
<rect x="606" y="459" width="1" height="4" fill="#000" />
<rect x="604" y="462" width="3" height="1" fill="#000" />
<rect x="604" y="462" width="1" height="11" fill="#000" />
<rect x="604" y="472" width="10" height="1" fill="#000" />
<rect x="611" y="462" width="3" height="1" fill="#000" />
<rect x="611" y="462" width="1" height="4" fill="#000" />
<rect x="606" y="465" width="6" height="1" fill="#000" />
<rect x="606" y="463" width="1" height="3" fill="#000" />
<rect x="424" y="460" width="175" height="13" fill="#000" />
<path d="M428 460.6h2v3.9h-2zM427 467h4v5h-4zM431 473h1v1h-1zM434 460.6h2v3.9h-2zM433 467h4v5h-4zM437 473h1v1h-1zM440 460.6h2v3.9h-2zM439 467h4v5h-4zM443 473h1v1h-1zM446 460.6h2v3.9h-2zM444 467h4v5h-4zM448 473h1v1h-1zM451 460.6h2v3.9h-2zM450 467h4v5h-4zM454 473h1v1h-1zM457 460.6h2v3.9h-2zM456 467h4v5h-4zM460 473h1v1h-1zM463 460.6h2v3.9h-2zM462 467h4v5h-4zM466 473h1v1h-1zM469 460.6h2v3.9h-2zM468 467h4v5h-4zM472 473h1v1h-1zM475 460.6h2v3.9h-2zM474 467h4v5h-4zM478 473h1v1h-1zM481 460.6h2v3.9h-2zM480 467h4v5h-4zM484 473h1v1h-1zM487 460.6h2v3.9h-2zM486 467h4v5h-4zM490 473h1v1h-1zM493 460.6h2v3.9h-2zM492 467h4v5h-4zM496 473h1v1h-1zM499 460.6h2v3.9h-2zM498 467h4v5h-4zM502 473h1v1h-1zM504 460.6h2v3.9h-2zM504 467h4v5h-4zM508 473h1v1h-1zM510 460.6h2v3.9h-2zM509 467h4v5h-4zM513 473h1v1h-1zM516 460.6h2v3.9h-2zM515 467h4v5h-4zM519 473h1v1h-1zM522 460.6h2v3.9h-2zM521 467h4v5h-4zM525 473h1v1h-1zM528 460.6h2v3.9h-2zM527 467h4v5h-4zM531 473h1v1h-1zM534 460.6h2v3.9h-2zM533 467h4v5h-4zM537 473h1v1h-1zM540 460.6h2v3.9h-2zM539 467h4v5h-4zM543 473h1v1h-1zM546 460.6h2v3.9h-2zM545 467h4v5h-4zM549 473h1v1h-1zM552 460.6h2v3.9h-2zM551 467h4v5h-4zM555 473h1v1h-1zM558 460.6h2v3.9h-2zM557 467h4v5h-4zM561 473h1v1h-1zM564 460.6h2v3.9h-2zM562 467h4v5h-4zM566 473h1v1h-1zM569 460.6h2v3.9h-2zM568 467h4v5h-4zM572 473h1v1h-1zM575 460.6h2v3.9h-2zM574 467h4v5h-4zM578 473h1v1h-1zM581 460.6h2v3.9h-2zM580 467h4v5h-4zM584 473h1v1h-1zM587 460.6h2v3.9h-2zM586 467h4v5h-4zM590 473h1v1h-1zM593 460.6h2v3.9h-2zM592 467h4v5h-4zM596 473h1v1h-1z" fill="#fff" shape-rendering="geometricPrecision"/>
<rect x="424" y="473" width="175" height="1" fill="#000" />
<path d="M426 473h1v1h-1zM432 473h1v1h-1zM438 473h1v1h-1zM444 473h1v1h-1zM450 473h1v1h-1zM456 473h1v1h-1zM462 473h1v1h-1zM468 473h1v1h-1zM474 473h1v1h-1zM479 473h1v1h-1zM485 473h1v1h-1zM491 473h1v1h-1zM497 473h1v1h-1zM503 473h1v1h-1zM509 473h1v1h-1zM515 473h1v1h-1zM521 473h1v1h-1zM527 473h1v1h-1zM532 473h1v1h-1zM538 473h1v1h-1zM544 473h1v1h-1zM550 473h1v1h-1zM556 473h1v1h-1zM562 473h1v1h-1zM568 473h1v1h-1zM574 473h1v1h-1zM580 473h1v1h-1zM586 473h1v1h-1zM592 473h1v1h-1z" fill="#fff"/>
<rect x="399" y="477" width="226" height="19" fill="#000" />
<rect x="400" y="478" width="224" height="17" fill="#fff" />
<rect x="400" y="484" width="6" height="1" fill="#000" />
<rect x="400" y="491" width="6" height="1" fill="#000" />
<rect x="406" y="477" width="4" height="17" fill="#000" />
<rect x="410" y="479" width="8" height="1" fill="#000" />
<rect x="417" y="479" width="1" height="4" fill="#000" />
<rect x="417" y="482" width="3" height="1" fill="#000" />
<rect x="419" y="482" width="1" height="11" fill="#000" />
<rect x="410" y="492" width="10" height="1" fill="#000" />
<rect x="410" y="482" width="3" height="1" fill="#000" />
<rect x="412" y="482" width="1" height="4" fill="#000" />
<rect x="412" y="485" width="6" height="1" fill="#000" />
<rect x="417" y="483" width="1" height="3" fill="#000" />
<rect x="618" y="484" width="6" height="1" fill="#000" />
<rect x="618" y="491" width="6" height="1" fill="#000" />
<rect x="614" y="477" width="4" height="17" fill="#000" />
<rect x="606" y="479" width="8" height="1" fill="#000" />
<rect x="606" y="479" width="1" height="4" fill="#000" />
<rect x="604" y="482" width="3" height="1" fill="#000" />
<rect x="604" y="482" width="1" height="11" fill="#000" />
<rect x="604" y="492" width="10" height="1" fill="#000" />
<rect x="611" y="482" width="3" height="1" fill="#000" />
<rect x="611" y="482" width="1" height="4" fill="#000" />
<rect x="606" y="485" width="6" height="1" fill="#000" />
<rect x="606" y="483" width="1" height="3" fill="#000" />
<rect x="424" y="480" width="175" height="13" fill="#000" />
<path d="M428 480.6h2v3.9h-2zM427 487h4v5h-4zM431 493h1v1h-1zM434 480.6h2v3.9h-2zM433 487h4v5h-4zM437 493h1v1h-1zM440 480.6h2v3.9h-2zM439 487h4v5h-4zM443 493h1v1h-1zM446 480.6h2v3.9h-2zM444 487h4v5h-4zM448 493h1v1h-1zM451 480.6h2v3.9h-2zM450 487h4v5h-4zM454 493h1v1h-1zM457 480.6h2v3.9h-2zM456 487h4v5h-4zM460 493h1v1h-1zM463 480.6h2v3.9h-2zM462 487h4v5h-4zM466 493h1v1h-1zM469 480.6h2v3.9h-2zM468 487h4v5h-4zM472 493h1v1h-1zM475 480.6h2v3.9h-2zM474 487h4v5h-4zM478 493h1v1h-1zM481 480.6h2v3.9h-2zM480 487h4v5h-4zM484 493h1v1h-1zM487 480.6h2v3.9h-2zM486 487h4v5h-4zM490 493h1v1h-1zM493 480.6h2v3.9h-2zM492 487h4v5h-4zM496 493h1v1h-1zM499 480.6h2v3.9h-2zM498 487h4v5h-4zM502 493h1v1h-1zM504 480.6h2v3.9h-2zM504 487h4v5h-4zM508 493h1v1h-1zM510 480.6h2v3.9h-2zM509 487h4v5h-4zM513 493h1v1h-1zM516 480.6h2v3.9h-2zM515 487h4v5h-4zM519 493h1v1h-1zM522 480.6h2v3.9h-2zM521 487h4v5h-4zM525 493h1v1h-1zM528 480.6h2v3.9h-2zM527 487h4v5h-4zM531 493h1v1h-1zM534 480.6h2v3.9h-2zM533 487h4v5h-4zM537 493h1v1h-1zM540 480.6h2v3.9h-2zM539 487h4v5h-4zM543 493h1v1h-1zM546 480.6h2v3.9h-2zM545 487h4v5h-4zM549 493h1v1h-1zM552 480.6h2v3.9h-2zM551 487h4v5h-4zM555 493h1v1h-1zM558 480.6h2v3.9h-2zM557 487h4v5h-4zM561 493h1v1h-1zM564 480.6h2v3.9h-2zM562 487h4v5h-4zM566 493h1v1h-1zM569 480.6h2v3.9h-2zM568 487h4v5h-4zM572 493h1v1h-1zM575 480.6h2v3.9h-2zM574 487h4v5h-4zM578 493h1v1h-1zM581 480.6h2v3.9h-2zM580 487h4v5h-4zM584 493h1v1h-1zM587 480.6h2v3.9h-2zM586 487h4v5h-4zM590 493h1v1h-1zM593 480.6h2v3.9h-2zM592 487h4v5h-4zM596 493h1v1h-1z" fill="#fff" shape-rendering="geometricPrecision"/>
<rect x="424" y="493" width="175" height="1" fill="#000" />
<path d="M426 493h1v1h-1zM432 493h1v1h-1zM438 493h1v1h-1zM444 493h1v1h-1zM450 493h1v1h-1zM456 493h1v1h-1zM462 493h1v1h-1zM468 493h1v1h-1zM474 493h1v1h-1zM479 493h1v1h-1zM485 493h1v1h-1zM491 493h1v1h-1zM497 493h1v1h-1zM503 493h1v1h-1zM509 493h1v1h-1zM515 493h1v1h-1zM521 493h1v1h-1zM527 493h1v1h-1zM532 493h1v1h-1zM538 493h1v1h-1zM544 493h1v1h-1zM550 493h1v1h-1zM556 493h1v1h-1zM562 493h1v1h-1zM568 493h1v1h-1zM574 493h1v1h-1zM580 493h1v1h-1zM586 493h1v1h-1zM592 493h1v1h-1z" fill="#fff"/>
<rect x="399" y="497" width="226" height="19" fill="#000" />
<rect x="400" y="498" width="224" height="17" fill="#fff" />
<rect x="400" y="504" width="6" height="1" fill="#000" />
<rect x="400" y="511" width="6" height="1" fill="#000" />
<rect x="406" y="497" width="4" height="17" fill="#000" />
<rect x="410" y="499" width="8" height="1" fill="#000" />
<rect x="417" y="499" width="1" height="4" fill="#000" />
<rect x="417" y="502" width="3" height="1" fill="#000" />
<rect x="419" y="502" width="1" height="11" fill="#000" />
<rect x="410" y="512" width="10" height="1" fill="#000" />
<rect x="410" y="502" width="3" height="1" fill="#000" />
<rect x="412" y="502" width="1" height="4" fill="#000" />
<rect x="412" y="505" width="6" height="1" fill="#000" />
<rect x="417" y="503" width="1" height="3" fill="#000" />
<rect x="618" y="504" width="6" height="1" fill="#000" />
<rect x="618" y="511" width="6" height="1" fill="#000" />
<rect x="614" y="497" width="4" height="17" fill="#000" />
<rect x="606" y="499" width="8" height="1" fill="#000" />
<rect x="606" y="499" width="1" height="4" fill="#000" />
<rect x="604" y="502" width="3" height="1" fill="#000" />
<rect x="604" y="502" width="1" height="11" fill="#000" />
<rect x="604" y="512" width="10" height="1" fill="#000" />
<rect x="611" y="502" width="3" height="1" fill="#000" />
<rect x="611" y="502" width="1" height="4" fill="#000" />
<rect x="606" y="505" width="6" height="1" fill="#000" />
<rect x="606" y="503" width="1" height="3" fill="#000" />
<rect x="424" y="500" width="175" height="13" fill="#000" />
<path d="M428 500.6h2v3.9h-2zM427 507h4v5h-4zM431 513h1v1h-1zM434 500.6h2v3.9h-2zM433 507h4v5h-4zM437 513h1v1h-1zM440 500.6h2v3.9h-2zM439 507h4v5h-4zM443 513h1v1h-1zM446 500.6h2v3.9h-2zM444 507h4v5h-4zM448 513h1v1h-1zM451 500.6h2v3.9h-2zM450 507h4v5h-4zM454 513h1v1h-1zM457 500.6h2v3.9h-2zM456 507h4v5h-4zM460 513h1v1h-1zM463 500.6h2v3.9h-2zM462 507h4v5h-4zM466 513h1v1h-1zM469 500.6h2v3.9h-2zM468 507h4v5h-4zM472 513h1v1h-1zM475 500.6h2v3.9h-2zM474 507h4v5h-4zM478 513h1v1h-1zM481 500.6h2v3.9h-2zM480 507h4v5h-4zM484 513h1v1h-1zM487 500.6h2v3.9h-2zM486 507h4v5h-4zM490 513h1v1h-1zM493 500.6h2v3.9h-2zM492 507h4v5h-4zM496 513h1v1h-1zM499 500.6h2v3.9h-2zM498 507h4v5h-4zM502 513h1v1h-1zM504 500.6h2v3.9h-2zM504 507h4v5h-4zM508 513h1v1h-1zM510 500.6h2v3.9h-2zM509 507h4v5h-4zM513 513h1v1h-1zM516 500.6h2v3.9h-2zM515 507h4v5h-4zM519 513h1v1h-1zM522 500.6h2v3.9h-2zM521 507h4v5h-4zM525 513h1v1h-1zM528 500.6h2v3.9h-2zM527 507h4v5h-4zM531 513h1v1h-1zM534 500.6h2v3.9h-2zM533 507h4v5h-4zM537 513h1v1h-1zM540 500.6h2v3.9h-2zM539 507h4v5h-4zM543 513h1v1h-1zM546 500.6h2v3.9h-2zM545 507h4v5h-4zM549 513h1v1h-1zM552 500.6h2v3.9h-2zM551 507h4v5h-4zM555 513h1v1h-1zM558 500.6h2v3.9h-2zM557 507h4v5h-4zM561 513h1v1h-1zM564 500.6h2v3.9h-2zM562 507h4v5h-4zM566 513h1v1h-1zM569 500.6h2v3.9h-2zM568 507h4v5h-4zM572 513h1v1h-1zM575 500.6h2v3.9h-2zM574 507h4v5h-4zM578 513h1v1h-1zM581 500.6h2v3.9h-2zM580 507h4v5h-4zM584 513h1v1h-1zM587 500.6h2v3.9h-2zM586 507h4v5h-4zM590 513h1v1h-1zM593 500.6h2v3.9h-2zM592 507h4v5h-4zM596 513h1v1h-1z" fill="#fff" shape-rendering="geometricPrecision"/>
<rect x="424" y="513" width="175" height="1" fill="#000" />
<path d="M426 513h1v1h-1zM432 513h1v1h-1zM438 513h1v1h-1zM444 513h1v1h-1zM450 513h1v1h-1zM456 513h1v1h-1zM462 513h1v1h-1zM468 513h1v1h-1zM474 513h1v1h-1zM479 513h1v1h-1zM485 513h1v1h-1zM491 513h1v1h-1zM497 513h1v1h-1zM503 513h1v1h-1zM509 513h1v1h-1zM515 513h1v1h-1zM521 513h1v1h-1zM527 513h1v1h-1zM532 513h1v1h-1zM538 513h1v1h-1zM544 513h1v1h-1zM550 513h1v1h-1zM556 513h1v1h-1zM562 513h1v1h-1zM568 513h1v1h-1zM574 513h1v1h-1zM580 513h1v1h-1zM586 513h1v1h-1zM592 513h1v1h-1z" fill="#fff"/>
<rect x="14" y="31" width="31" height="7" fill="#000" />
<rect x="15" y="32" width="29" height="5" fill="#fff" />
<rect x="16" y="32" width="4" height="4" fill="#000" />
<rect x="22" y="32" width="4" height="4" fill="#000" />
<rect x="28" y="32" width="4" height="4" fill="#000" />
<rect x="34" y="32" width="4" height="4" fill="#000" />
<rect x="40" y="32" width="4" height="4" fill="#000" />
<rect x="14" y="43" width="26" height="7" fill="#000" />
<rect x="15" y="44" width="1" height="5" fill="#fff" />
<rect x="20" y="44" width="2" height="5" fill="#fff" />
<rect x="26" y="44" width="1" height="5" fill="#fff" />
<rect x="32" y="44" width="1" height="5" fill="#fff" />
<rect x="38" y="44" width="1" height="5" fill="#fff" />
<rect x="14" y="55" width="26" height="7" fill="#000" />
<rect x="15" y="56" width="24" height="5" fill="#fff" />
<rect x="16" y="56" width="4" height="4" fill="#000" />
<rect x="22" y="56" width="4" height="4" fill="#000" />
<rect x="28" y="56" width="4" height="4" fill="#000" />
<rect x="34" y="56" width="4" height="4" fill="#000" />
<rect x="14" y="67" width="14" height="7" fill="#000" />
<rect x="15" y="68" width="1" height="5" fill="#fff" />
<rect x="20" y="68" width="2" height="5" fill="#fff" />
<rect x="26" y="68" width="1" height="5" fill="#fff" />
<rect x="102" y="17" width="19" height="6" fill="#000" />
<rect x="107" y="18" width="2" height="4" fill="#fff" />
<rect x="113" y="18" width="2" height="4" fill="#fff" />
<rect x="119" y="18" width="1" height="4" fill="#fff" />
<rect x="116" y="19" width="2" height="2" fill="#fff" />
<rect x="107" y="31" width="14" height="7" fill="#000" />
<rect x="108" y="32" width="1" height="5" fill="#fff" />
<rect x="114" y="32" width="1" height="5" fill="#fff" />
<rect x="119" y="32" width="1" height="5" fill="#fff" />
<rect x="76" y="159" width="19" height="7" fill="#000" />
<rect x="78" y="161" width="3" height="2" fill="#fff" />
<rect x="82" y="160" width="1" height="4" fill="#fff" />
<rect x="88" y="160" width="1" height="4" fill="#fff" />
<rect x="93" y="160" width="1" height="4" fill="#fff" />
<rect x="77" y="164" width="17" height="1" fill="#fff" />
<rect x="76" y="170" width="19" height="7" fill="#000" />
<rect x="78" y="172" width="3" height="3" fill="#fff" />
<rect x="82" y="171" width="1" height="5" fill="#fff" />
<rect x="88" y="171" width="1" height="5" fill="#fff" />
<rect x="93" y="171" width="1" height="5" fill="#fff" />
<rect x="23" y="324" width="19" height="6" fill="#000" />
<rect x="25" y="325" width="4" height="4" fill="#fff" />
<rect x="31" y="325" width="1" height="4" fill="#fff" />
<rect x="35" y="325" width="2" height="4" fill="#fff" />
<rect x="26" y="326" width="2" height="2" fill="#000" />
<rect x="347" y="126" width="19" height="7" fill="#000" />
<rect x="348" y="127" width="15" height="1" fill="#fff" />
<rect x="348" y="128" width="6" height="4" fill="#fff" />
<rect x="349" y="128" width="4" height="4" fill="#000" />
<rect x="350" y="129" width="2" height="2" fill="#fff" />
<rect x="354" y="128" width="1" height="4" fill="#fff" />
<rect x="358" y="128" width="1" height="4" fill="#fff" />
<rect x="281" y="266" width="20" height="6" fill="#000" />
<rect x="283" y="267" width="4" height="4" fill="#fff" />
<rect x="289" y="267" width="1" height="4" fill="#fff" />
<rect x="293" y="267" width="2" height="4" fill="#fff" />
<rect x="298" y="267" width="1" height="4" fill="#fff" />
<rect x="284" y="268" width="2" height="2" fill="#000" />
<rect x="649" y="398" width="19" height="7" fill="#000" />
<rect x="651" y="399" width="3" height="5" fill="#fff" />
<rect x="656" y="399" width="1" height="5" fill="#fff" />
<rect x="661" y="399" width="1" height="5" fill="#fff" />
<rect x="652" y="400" width="1" height="3" fill="#000" />
<rect x="634" y="482" width="14" height="7" fill="#000" />
<rect x="635" y="483" width="12" height="5" fill="#fff" />
<rect x="636" y="484" width="4" height="5" fill="#000" />
<rect x="642" y="484" width="4" height="5" fill="#000" />
<rect x="706" y="469" width="25" height="7" fill="#000" />
<rect x="708" y="470" width="1" height="5" fill="#fff" />
<rect x="713" y="470" width="1" height="5" fill="#fff" />
<rect x="718" y="470" width="1" height="5" fill="#fff" />
<rect x="723" y="470" width="1" height="5" fill="#fff" />
<rect x="728" y="470" width="1" height="5" fill="#fff" />
<rect x="247" y="365" width="7" height="19" fill="#000" />
<rect x="248" y="366" width="5" height="17" fill="#fff" />
<rect x="249" y="366" width="3" height="5" fill="#000" />
<rect x="250" y="367" width="1" height="3" fill="#fff" />
<rect x="248" y="372" width="4" height="4" fill="#000" />
<rect x="248" y="378" width="4" height="3" fill="#000" />
<rect x="247" y="413" width="7" height="20" fill="#000" />
<rect x="248" y="414" width="5" height="18" fill="#fff" />
<rect x="249" y="414" width="3" height="5" fill="#000" />
<rect x="250" y="415" width="1" height="3" fill="#fff" />
<rect x="248" y="420" width="4" height="4" fill="#000" />
<rect x="248" y="426" width="4" height="3" fill="#000" />
<rect x="247" y="462" width="7" height="19" fill="#000" />
<rect x="248" y="463" width="5" height="17" fill="#fff" />
<rect x="249" y="463" width="3" height="5" fill="#000" />
<rect x="250" y="464" width="1" height="3" fill="#fff" />
<rect x="248" y="469" width="4" height="4" fill="#000" />
<rect x="248" y="475" width="4" height="3" fill="#000" />
<rect x="755" y="439" width="30" height="38" fill="#000" />
<rect x="779" y="435" width="6" height="46" fill="#000" />
<rect x="782" y="433" width="3" height="50" fill="#000" />
<rect x="748" y="448" width="5" height="9" fill="#000" />
<rect x="749" y="449" width="3" height="7" fill="#fff" />
<rect x="748" y="459" width="5" height="9" fill="#000" />
<rect x="749" y="460" width="3" height="7" fill="#fff" />
<rect x="752" y="446" width="3" height="24" fill="#000" />
<rect x="753" y="447" width="2" height="22" fill="#fff" />
<rect x="753" y="448" width="2" height="1" fill="#000" />
<rect x="753" y="450" width="2" height="1" fill="#000" />
<rect x="753" y="452" width="2" height="1" fill="#000" />
<rect x="753" y="454" width="2" height="1" fill="#000" />
<rect x="753" y="456" width="2" height="1" fill="#000" />
<rect x="753" y="458" width="2" height="1" fill="#000" />
<rect x="753" y="460" width="2" height="1" fill="#000" />
<rect x="753" y="462" width="2" height="1" fill="#000" />
<rect x="753" y="464" width="2" height="1" fill="#000" />
<rect x="753" y="466" width="2" height="1" fill="#000" />
<rect x="753" y="468" width="2" height="1" fill="#000" />
<rect x="753" y="456" width="2" height="4" fill="#000" />
<rect x="648" y="491" width="114" height="25" fill="#000" />
<rect x="649" y="492" width="112" height="23" fill="#fff" />
<rect x="650.40" y="502" width="6.4" height="1.6" fill="#000" shape-rendering="geometricPrecision"/>
<rect x="650.20" y="496.2" width="6.8" height="1.3" fill="#000" shape-rendering="geometricPrecision"/>
<rect x="651.60" y="494" width="4" height="2.4" fill="#000" rx="1" shape-rendering="geometricPrecision"/>
<rect x="652.50" y="494.9" width="2.2" height="1.2" fill="#fff" shape-rendering="geometricPrecision"/>
<rect x="652.40" y="497.3" width="2.4" height="1.6" fill="#000" shape-rendering="geometricPrecision"/>
<rect x="659.58" y="502" width="6.4" height="1.6" fill="#000" shape-rendering="geometricPrecision"/>
<rect x="659.38" y="496.2" width="6.8" height="1.3" fill="#000" shape-rendering="geometricPrecision"/>
<rect x="660.78" y="494" width="4" height="2.4" fill="#000" rx="1" shape-rendering="geometricPrecision"/>
<rect x="661.68" y="494.9" width="2.2" height="1.2" fill="#fff" shape-rendering="geometricPrecision"/>
<rect x="661.58" y="497.3" width="2.4" height="1.6" fill="#000" shape-rendering="geometricPrecision"/>
<rect x="668.76" y="502" width="6.4" height="1.6" fill="#000" shape-rendering="geometricPrecision"/>
<rect x="668.56" y="496.2" width="6.8" height="1.3" fill="#000" shape-rendering="geometricPrecision"/>
<rect x="669.96" y="494" width="4" height="2.4" fill="#000" rx="1" shape-rendering="geometricPrecision"/>
<rect x="670.86" y="494.9" width="2.2" height="1.2" fill="#fff" shape-rendering="geometricPrecision"/>
<rect x="670.76" y="497.3" width="2.4" height="1.6" fill="#000" shape-rendering="geometricPrecision"/>
<rect x="677.94" y="502" width="6.4" height="1.6" fill="#000" shape-rendering="geometricPrecision"/>
<rect x="677.74" y="496.2" width="6.8" height="1.3" fill="#000" shape-rendering="geometricPrecision"/>
<rect x="679.14" y="494" width="4" height="2.4" fill="#000" rx="1" shape-rendering="geometricPrecision"/>
<rect x="680.04" y="494.9" width="2.2" height="1.2" fill="#fff" shape-rendering="geometricPrecision"/>
<rect x="679.94" y="497.3" width="2.4" height="1.6" fill="#000" shape-rendering="geometricPrecision"/>
<rect x="687.12" y="502" width="6.4" height="1.6" fill="#000" shape-rendering="geometricPrecision"/>
<rect x="686.92" y="496.2" width="6.8" height="1.3" fill="#000" shape-rendering="geometricPrecision"/>
<rect x="688.32" y="494" width="4" height="2.4" fill="#000" rx="1" shape-rendering="geometricPrecision"/>
<rect x="689.22" y="494.9" width="2.2" height="1.2" fill="#fff" shape-rendering="geometricPrecision"/>
<rect x="689.12" y="497.3" width="2.4" height="1.6" fill="#000" shape-rendering="geometricPrecision"/>
<rect x="696.30" y="502" width="6.4" height="1.6" fill="#000" shape-rendering="geometricPrecision"/>
<rect x="696.10" y="496.2" width="6.8" height="1.3" fill="#000" shape-rendering="geometricPrecision"/>
<rect x="697.50" y="494" width="4" height="2.4" fill="#000" rx="1" shape-rendering="geometricPrecision"/>
<rect x="698.40" y="494.9" width="2.2" height="1.2" fill="#fff" shape-rendering="geometricPrecision"/>
<rect x="698.30" y="497.3" width="2.4" height="1.6" fill="#000" shape-rendering="geometricPrecision"/>
<rect x="705.48" y="502" width="6.4" height="1.6" fill="#000" shape-rendering="geometricPrecision"/>
<rect x="705.28" y="496.2" width="6.8" height="1.3" fill="#000" shape-rendering="geometricPrecision"/>
<rect x="706.68" y="494" width="4" height="2.4" fill="#000" rx="1" shape-rendering="geometricPrecision"/>
<rect x="707.58" y="494.9" width="2.2" height="1.2" fill="#fff" shape-rendering="geometricPrecision"/>
<rect x="707.48" y="497.3" width="2.4" height="1.6" fill="#000" shape-rendering="geometricPrecision"/>
<rect x="714.66" y="502" width="6.4" height="1.6" fill="#000" shape-rendering="geometricPrecision"/>
<rect x="714.46" y="496.2" width="6.8" height="1.3" fill="#000" shape-rendering="geometricPrecision"/>
<rect x="715.86" y="494" width="4" height="2.4" fill="#000" rx="1" shape-rendering="geometricPrecision"/>
<rect x="716.76" y="494.9" width="2.2" height="1.2" fill="#fff" shape-rendering="geometricPrecision"/>
<rect x="716.66" y="497.3" width="2.4" height="1.6" fill="#000" shape-rendering="geometricPrecision"/>
<rect x="723.84" y="502" width="6.4" height="1.6" fill="#000" shape-rendering="geometricPrecision"/>
<rect x="723.64" y="496.2" width="6.8" height="1.3" fill="#000" shape-rendering="geometricPrecision"/>
<rect x="725.04" y="494" width="4" height="2.4" fill="#000" rx="1" shape-rendering="geometricPrecision"/>
<rect x="725.94" y="494.9" width="2.2" height="1.2" fill="#fff" shape-rendering="geometricPrecision"/>
<rect x="725.84" y="497.3" width="2.4" height="1.6" fill="#000" shape-rendering="geometricPrecision"/>
<rect x="733.02" y="502" width="6.4" height="1.6" fill="#000" shape-rendering="geometricPrecision"/>
<rect x="732.82" y="496.2" width="6.8" height="1.3" fill="#000" shape-rendering="geometricPrecision"/>
<rect x="734.22" y="494" width="4" height="2.4" fill="#000" rx="1" shape-rendering="geometricPrecision"/>
<rect x="735.12" y="494.9" width="2.2" height="1.2" fill="#fff" shape-rendering="geometricPrecision"/>
<rect x="735.02" y="497.3" width="2.4" height="1.6" fill="#000" shape-rendering="geometricPrecision"/>
<rect x="742.20" y="502" width="6.4" height="1.6" fill="#000" shape-rendering="geometricPrecision"/>
<rect x="742.00" y="496.2" width="6.8" height="1.3" fill="#000" shape-rendering="geometricPrecision"/>
<rect x="743.40" y="494" width="4" height="2.4" fill="#000" rx="1" shape-rendering="geometricPrecision"/>
<rect x="744.30" y="494.9" width="2.2" height="1.2" fill="#fff" shape-rendering="geometricPrecision"/>
<rect x="744.20" y="497.3" width="2.4" height="1.6" fill="#000" shape-rendering="geometricPrecision"/>
<rect x="751.38" y="502" width="6.4" height="1.6" fill="#000" shape-rendering="geometricPrecision"/>
<rect x="751.18" y="496.2" width="6.8" height="1.3" fill="#000" shape-rendering="geometricPrecision"/>
<rect x="752.58" y="494" width="4" height="2.4" fill="#000" rx="1" shape-rendering="geometricPrecision"/>
<rect x="753.48" y="494.9" width="2.2" height="1.2" fill="#fff" shape-rendering="geometricPrecision"/>
<rect x="753.38" y="497.3" width="2.4" height="1.6" fill="#000" shape-rendering="geometricPrecision"/>
<rect x="654" y="505" width="7" height="8" fill="#000" />
<rect x="655" y="506" width="5" height="6" fill="#fff" />
<rect x="663" y="505" width="7" height="8" fill="#000" />
<rect x="664" y="506" width="5" height="6" fill="#fff" />
<rect x="672" y="505" width="8" height="8" fill="#000" />
<rect x="673" y="506" width="6" height="6" fill="#fff" />
<rect x="682" y="505" width="7" height="8" fill="#000" />
<rect x="683" y="506" width="5" height="6" fill="#fff" />
<rect x="691" y="505" width="7" height="8" fill="#000" />
<rect x="692" y="506" width="5" height="6" fill="#fff" />
<rect x="700" y="505" width="7" height="8" fill="#000" />
<rect x="701" y="506" width="5" height="6" fill="#fff" />
<rect x="709" y="505" width="8" height="8" fill="#000" />
<rect x="710" y="506" width="6" height="6" fill="#fff" />
<rect x="719" y="505" width="7" height="8" fill="#000" />
<rect x="720" y="506" width="5" height="6" fill="#fff" />
<rect x="728" y="505" width="7" height="8" fill="#000" />
<rect x="729" y="506" width="5" height="6" fill="#fff" />
<rect x="737" y="505" width="7" height="8" fill="#000" />
<rect x="738" y="506" width="5" height="6" fill="#fff" />
<rect x="749" y="505" width="6" height="8" fill="#000" />
<rect x="750" y="506" width="4" height="6" fill="#fff" />
<rect x="648" y="506" width="3" height="1" fill="#000" />
<rect x="650" y="506" width="1" height="3" fill="#000" />
<rect x="648" y="509" width="3" height="1" fill="#000" />
<rect x="650" y="510" width="1" height="2" fill="#000" />
<rect x="648" y="512" width="3" height="1" fill="#000" />
<rect x="759" y="506" width="3" height="1" fill="#000" />
<rect x="759" y="506" width="1" height="3" fill="#000" />
<rect x="759" y="509" width="3" height="1" fill="#000" />
<rect x="759" y="510" width="1" height="2" fill="#000" />
<rect x="759" y="512" width="3" height="1" fill="#000" />
<polygon shape-rendering="geometricPrecision" points="664.2,427.5 686.7,427.5 688.2,429.2 689.6,433 688.2,436.6 686.4,441.2 688.7,447.4 686.4,454.3 688.2,458.3 689.6,461.7 688.2,464.5 686.2,467.5 667.1,467.5 663.4,465.1 662,461.7 664.2,454.3 662.3,447.4 664.5,441.2 662.3,433.2 662.8,429.2" fill="#fff" stroke="#000" stroke-width="1"/>
<polygon points="46.64,35.68 49.76,32.67 56.31,27.87 58.46,25.79 54.85,22.05 52.69,24.13 47.67,30.51 44.56,33.52" fill="#000" shape-rendering="geometricPrecision"/>
<rect x="52" y="10" width="34.7" height="18" rx="3.2" ry="3.2" fill="#000" shape-rendering="geometricPrecision"/>
<rect x="54" y="12" width="29.9" height="14" rx="1.2" ry="1.2" fill="#fff" shape-rendering="geometricPrecision"/>
<polygon points="51.12,29.27 55.26,26.79 57.42,24.71 55.89,23.12 53.74,25.21" fill="#fff" shape-rendering="geometricPrecision"/>
<text x="68.95" y="22.9" font-size="13" text-anchor="middle">J22</text>
<polygon points="40.28,47.60 46.66,47.68 55.45,49.90 58.45,49.94 58.55,42.74 55.55,42.70 46.70,44.68 40.32,44.60" fill="#000" shape-rendering="geometricPrecision"/>
<rect x="55" y="37" width="36" height="19" rx="3.2" ry="3.2" fill="#000" shape-rendering="geometricPrecision"/>
<rect x="57" y="39" width="32" height="15" rx="1.2" ry="1.2" fill="#fff" shape-rendering="geometricPrecision"/>
<polygon points="49.72,46.22 55.47,48.40 58.47,48.44 58.53,44.24 55.53,44.20" fill="#fff" shape-rendering="geometricPrecision"/>
<text x="73" y="50.4" font-size="13" text-anchor="middle">J21</text>
<polygon points="39.93,58.45 42.84,61.39 47.45,67.63 49.56,69.76 53.26,66.11 51.15,63.97 44.97,59.29 42.07,56.35" fill="#000" shape-rendering="geometricPrecision"/>
<rect x="47" y="64" width="35" height="18.4" rx="3.2" ry="3.2" fill="#000" shape-rendering="geometricPrecision"/>
<rect x="49" y="66" width="30.2" height="13.9" rx="1.2" ry="1.2" fill="#fff" shape-rendering="geometricPrecision"/>
<polygon points="46.15,62.61 48.52,66.57 50.63,68.71 52.19,67.16 50.08,65.03" fill="#fff" shape-rendering="geometricPrecision"/>
<text x="64.1" y="76.85" font-size="13" text-anchor="middle">J20</text>
<polygon points="19.33,74.28 20.45,80.23 21.44,91.48 22.00,94.43 27.11,93.47 26.56,90.52 23.39,79.67 22.27,73.72" fill="#000" shape-rendering="geometricPrecision"/>
<rect x="10.5" y="90.5" width="25.3" height="18.3" rx="3.2" ry="3.2" fill="#000" shape-rendering="geometricPrecision"/>
<rect x="13.1" y="92.5" width="20.7" height="13.7" rx="1.2" ry="1.2" fill="#fff" shape-rendering="geometricPrecision"/>
<polygon points="22.78,84.54 22.92,91.20 23.47,94.15 25.64,93.74 25.08,90.80" fill="#fff" shape-rendering="geometricPrecision"/>
<text x="23.45" y="103.25" font-size="13" text-anchor="middle">J6</text>
<polygon points="122.18,21.30 129.07,21.39 137.45,23.60 140.45,23.64 140.55,16.44 137.55,16.40 129.10,18.39 122.22,18.30" fill="#000" shape-rendering="geometricPrecision"/>
<rect x="137" y="11" width="36" height="18.7" rx="3.2" ry="3.2" fill="#000" shape-rendering="geometricPrecision"/>
<rect x="139" y="13" width="31.2" height="14" rx="1.2" ry="1.2" fill="#fff" shape-rendering="geometricPrecision"/>
<polygon points="131.69,19.92 137.47,22.10 140.47,22.14 140.53,17.94 137.53,17.90" fill="#fff" shape-rendering="geometricPrecision"/>
<text x="142.37" y="23.9" font-size="13" textLength="8.9" lengthAdjust="spacingAndGlyphs">W</text>
<text x="152.97" y="23.9" font-size="13">12</text>
<polygon points="120.48,34.50 123.45,37.26 128.23,43.20 130.43,45.25 133.97,41.44 131.77,39.40 125.50,35.07 122.52,32.30" fill="#000" shape-rendering="geometricPrecision"/>
<rect x="128" y="40" width="34" height="19" rx="3.2" ry="3.2" fill="#000" shape-rendering="geometricPrecision"/>
<rect x="130" y="42" width="29.7" height="15" rx="1.2" ry="1.2" fill="#fff" shape-rendering="geometricPrecision"/>
<polygon points="126.77,38.30 129.25,42.11 131.45,44.15 132.95,42.54 130.75,40.49" fill="#fff" shape-rendering="geometricPrecision"/>
<text x="132.62" y="53.4" font-size="13" textLength="8.9" lengthAdjust="spacingAndGlyphs">W</text>
<text x="143.22" y="53.4" font-size="13">13</text>
<polygon points="77.15,160.84 73.86,158.14 68.45,152.29 66.13,150.39 62.83,154.41 65.15,156.31 71.96,160.47 75.25,163.16" fill="#000" shape-rendering="geometricPrecision"/>
<rect x="34.5" y="137.5" width="34.5" height="18.3" rx="3.2" ry="3.2" fill="#000" shape-rendering="geometricPrecision"/>
<rect x="37.1" y="139.5" width="29.9" height="13.7" rx="1.2" ry="1.2" fill="#fff" shape-rendering="geometricPrecision"/>
<polygon points="70.37,157.23 67.50,153.45 65.18,151.55 63.78,153.25 66.10,155.15" fill="#fff" shape-rendering="geometricPrecision"/>
<text x="39.82" y="150.25" font-size="13" textLength="8.9" lengthAdjust="spacingAndGlyphs">W</text>
<text x="50.42" y="150.25" font-size="13">10</text>
<polygon points="75.54,172.45 72.04,175.39 64.83,180.01 62.53,181.94 65.88,185.92 68.17,183.99 73.96,177.69 77.46,174.75" fill="#000" shape-rendering="geometricPrecision"/>
<rect x="44" y="181" width="24.8" height="17.8" rx="3.2" ry="3.2" fill="#000" shape-rendering="geometricPrecision"/>
<rect x="46.6" y="183" width="20.2" height="13.2" rx="1.2" ry="1.2" fill="#fff" shape-rendering="geometricPrecision"/>
<polygon points="70.30,178.81 65.79,181.16 63.50,183.09 64.91,184.77 67.21,182.84" fill="#fff" shape-rendering="geometricPrecision"/>
<text x="48.09" y="193.5" font-size="13" textLength="8.9" lengthAdjust="spacingAndGlyphs">W</text>
<text x="58.69" y="193.5" font-size="13">9</text>
<polygon points="25.49,331.91 28.81,334.95 34.24,341.42 36.46,343.44 39.97,339.61 37.76,337.58 30.84,332.74 27.51,329.69" fill="#000" shape-rendering="geometricPrecision"/>
<rect x="34" y="338" width="25" height="18.8" rx="3.2" ry="3.2" fill="#000" shape-rendering="geometricPrecision"/>
<rect x="36" y="340" width="20.2" height="14" rx="1.2" ry="1.2" fill="#fff" shape-rendering="geometricPrecision"/>
<polygon points="32.39,336.19 35.26,340.31 37.47,342.34 38.96,340.71 36.74,338.69" fill="#fff" shape-rendering="geometricPrecision"/>
<text x="37.48" y="350.9" font-size="13" textLength="8.9" lengthAdjust="spacingAndGlyphs">W</text>
<text x="48.09" y="350.9" font-size="13">8</text>
<polygon points="348.22,135.13 351.65,138.11 357.30,144.46 359.56,146.43 362.97,142.50 360.70,140.54 353.61,135.84 350.18,132.87" fill="#000" shape-rendering="geometricPrecision"/>
<rect x="357" y="141" width="25" height="18.8" rx="3.2" ry="3.2" fill="#000" shape-rendering="geometricPrecision"/>
<rect x="359" y="143" width="20.2" height="14" rx="1.2" ry="1.2" fill="#fff" shape-rendering="geometricPrecision"/>
<polygon points="355.28,139.27 358.28,143.33 360.55,145.30 361.99,143.63 359.72,141.67" fill="#fff" shape-rendering="geometricPrecision"/>
<text x="360.49" y="153.9" font-size="13" textLength="8.9" lengthAdjust="spacingAndGlyphs">W</text>
<text x="371.09" y="153.9" font-size="13">3</text>
<polygon points="286.57,265.05 289.54,262.04 295.85,257.23 297.96,255.09 294.26,251.44 292.15,253.57 287.41,259.94 284.43,262.95" fill="#000" shape-rendering="geometricPrecision"/>
<rect x="292" y="239" width="25" height="18.2" rx="3.2" ry="3.2" fill="#000" shape-rendering="geometricPrecision"/>
<rect x="294" y="241" width="20.2" height="13.4" rx="1.2" ry="1.2" fill="#fff" shape-rendering="geometricPrecision"/>
<polygon points="290.77,258.67 294.78,256.17 296.89,254.04 295.33,252.49 293.22,254.63" fill="#fff" shape-rendering="geometricPrecision"/>
<text x="295.49" y="251.6" font-size="13" textLength="8.9" lengthAdjust="spacingAndGlyphs">W</text>
<text x="306.09" y="251.6" font-size="13">4</text>
<polygon points="246.98,373.10 238.45,373.27 231.44,371.30 228.44,371.36 228.56,377.76 231.56,377.70 238.50,375.46 247.02,375.30" fill="#000" shape-rendering="geometricPrecision"/>
<rect x="206" y="365" width="26" height="18.8" rx="3.2" ry="3.2" fill="#000" shape-rendering="geometricPrecision"/>
<rect x="208" y="367" width="21.4" height="14.1" rx="1.2" ry="1.2" fill="#fff" shape-rendering="geometricPrecision"/>
<polygon points="237.39,374.39 231.47,372.80 228.47,372.86 228.53,376.26 231.53,376.20" fill="#fff" shape-rendering="geometricPrecision"/>
<text x="210.08" y="377.95" font-size="13" textLength="8.9" lengthAdjust="spacingAndGlyphs">W</text>
<text x="220.68" y="377.95" font-size="13">5</text>
<polygon points="254.20,423.50 262.06,423.50 268.50,425.60 271.50,425.60 271.50,419.20 268.50,419.20 262.06,421.30 254.20,421.30" fill="#000" shape-rendering="geometricPrecision"/>
<rect x="268" y="413" width="26" height="18.8" rx="3.2" ry="3.2" fill="#000" shape-rendering="geometricPrecision"/>
<rect x="270" y="415" width="22" height="14.5" rx="1.2" ry="1.2" fill="#fff" shape-rendering="geometricPrecision"/>
<polygon points="263.07,422.40 268.50,424.10 271.50,424.10 271.50,420.70 268.50,420.70" fill="#fff" shape-rendering="geometricPrecision"/>
<text x="272.38" y="426.15" font-size="13" textLength="8.9" lengthAdjust="spacingAndGlyphs">W</text>
<text x="282.99" y="426.15" font-size="13">6</text>
<polygon points="254.20,472.00 262.72,472.00 269.70,474.10 272.70,474.10 272.70,467.70 269.70,467.70 262.72,469.80 254.20,469.80" fill="#000" shape-rendering="geometricPrecision"/>
<rect x="269.2" y="462" width="25.6" height="18" rx="3.2" ry="3.2" fill="#000" shape-rendering="geometricPrecision"/>
<rect x="271.2" y="464" width="21.6" height="14" rx="1.2" ry="1.2" fill="#fff" shape-rendering="geometricPrecision"/>
<polygon points="263.81,470.90 269.70,472.60 272.70,472.60 272.70,469.20 269.70,469.20" fill="#fff" shape-rendering="geometricPrecision"/>
<text x="273.38" y="474.9" font-size="13" textLength="8.9" lengthAdjust="spacingAndGlyphs">W</text>
<text x="283.99" y="474.9" font-size="13">7</text>
<polygon points="660.00,397.72 663.15,394.92 669.73,390.54 671.97,388.55 668.51,384.66 666.27,386.66 661.15,392.68 658.00,395.48" fill="#000" shape-rendering="geometricPrecision"/>
<rect x="666" y="372" width="25" height="18.6" rx="3.2" ry="3.2" fill="#000" shape-rendering="geometricPrecision"/>
<rect x="668" y="374" width="20.2" height="13.8" rx="1.2" ry="1.2" fill="#fff" shape-rendering="geometricPrecision"/>
<polygon points="664.58,391.64 668.73,389.42 670.97,387.43 669.51,385.78 667.27,387.78" fill="#fff" shape-rendering="geometricPrecision"/>
<text x="669.49" y="384.8" font-size="13" textLength="8.9" lengthAdjust="spacingAndGlyphs">W</text>
<text x="680.09" y="384.8" font-size="13">2</text>
<polygon points="642.30,482.05 642.51,475.89 644.40,464.50 644.50,461.50 638.50,461.30 638.40,464.30 639.51,475.79 639.30,481.95" fill="#000" shape-rendering="geometricPrecision"/>
<rect x="629.2" y="447.1" width="25.7" height="18.3" rx="3.2" ry="3.2" fill="#000" shape-rendering="geometricPrecision"/>
<rect x="631.2" y="449.1" width="21.3" height="13.9" rx="1.2" ry="1.2" fill="#fff" shape-rendering="geometricPrecision"/>
<polygon points="641.17,471.09 642.90,464.45 643.00,461.45 640.00,461.35 639.90,464.35" fill="#fff" shape-rendering="geometricPrecision"/>
<text x="633.23" y="459.95" font-size="13" textLength="8.9" lengthAdjust="spacingAndGlyphs">W</text>
<text x="643.83" y="459.95" font-size="13">1</text>
<polygon points="720.30,469.24 720.47,463.15 722.50,451.89 722.58,448.89 716.19,448.71 716.10,451.71 717.48,463.07 717.30,469.16" fill="#000" shape-rendering="geometricPrecision"/>
<rect x="703.1" y="434" width="33.6" height="18.8" rx="3.2" ry="3.2" fill="#000" shape-rendering="geometricPrecision"/>
<rect x="705.1" y="437" width="29.3" height="13.4" rx="1.2" ry="1.2" fill="#fff" shape-rendering="geometricPrecision"/>
<polygon points="719.11,458.41 721.00,451.85 721.09,448.85 717.69,448.75 717.60,451.75" fill="#fff" shape-rendering="geometricPrecision"/>
<text x="719.75" y="446.8" font-size="13" text-anchor="middle" textLength="19.3" lengthAdjust="spacingAndGlyphs">J18</text>

<rect x="151" y="132" width="33" height="18.8" rx="3.2" ry="3.2" fill="#000" shape-rendering="geometricPrecision"/>
<rect x="154" y="134" width="28" height="13.8" rx="1.2" ry="1.2" fill="#fff" shape-rendering="geometricPrecision"/>

<text x="168" y="144.8" font-size="13" text-anchor="middle" textLength="26" lengthAdjust="spacingAndGlyphs">NPU</text>
<rect x="129" y="291" width="28" height="14" fill="#fff" />
<text x="143.2" y="303" font-size="13" text-anchor="middle" textLength="28" lengthAdjust="spacingAndGlyphs">CPU</text>
<rect x="93" y="434.5" width="50" height="18.1" rx="3" ry="3" fill="#000" shape-rendering="geometricPrecision"/>
<rect x="95" y="436" width="46" height="14" rx="1.5" ry="1.5" fill="#fff" shape-rendering="geometricPrecision"/>
<text x="117.3" y="448" font-size="13" text-anchor="middle" textLength="44.5" lengthAdjust="spacingAndGlyphs">CACHE</text>
<rect x="482.3" y="381.2" width="59.7" height="17.4" rx="3" ry="3" fill="#000" shape-rendering="geometricPrecision"/>
<rect x="484" y="382.8" width="56.3" height="14.2" rx="1.5" ry="1.5" fill="#fff" shape-rendering="geometricPrecision"/>
<text x="511.7" y="394.8" font-size="13" text-anchor="middle" textLength="47.5" lengthAdjust="spacingAndGlyphs">BANK 0</text>
<rect x="482.3" y="467.7" width="59.7" height="17.4" rx="3" ry="3" fill="#000" shape-rendering="geometricPrecision"/>
<rect x="484" y="469.3" width="56.3" height="14.2" rx="1.5" ry="1.5" fill="#fff" shape-rendering="geometricPrecision"/>
<text x="511.7" y="481.3" font-size="13" text-anchor="middle" textLength="47.5" lengthAdjust="spacingAndGlyphs">BANK 1</text>
<text x="619.7" y="53" font-size="12" textLength="15.6" lengthAdjust="spacingAndGlyphs">MH</text>
<text x="635.8" y="53" font-size="11" textLength="25.6" lengthAdjust="spacingAndGlyphs">0908</text>
<!--MORE4-->
</svg>
</body></html>
